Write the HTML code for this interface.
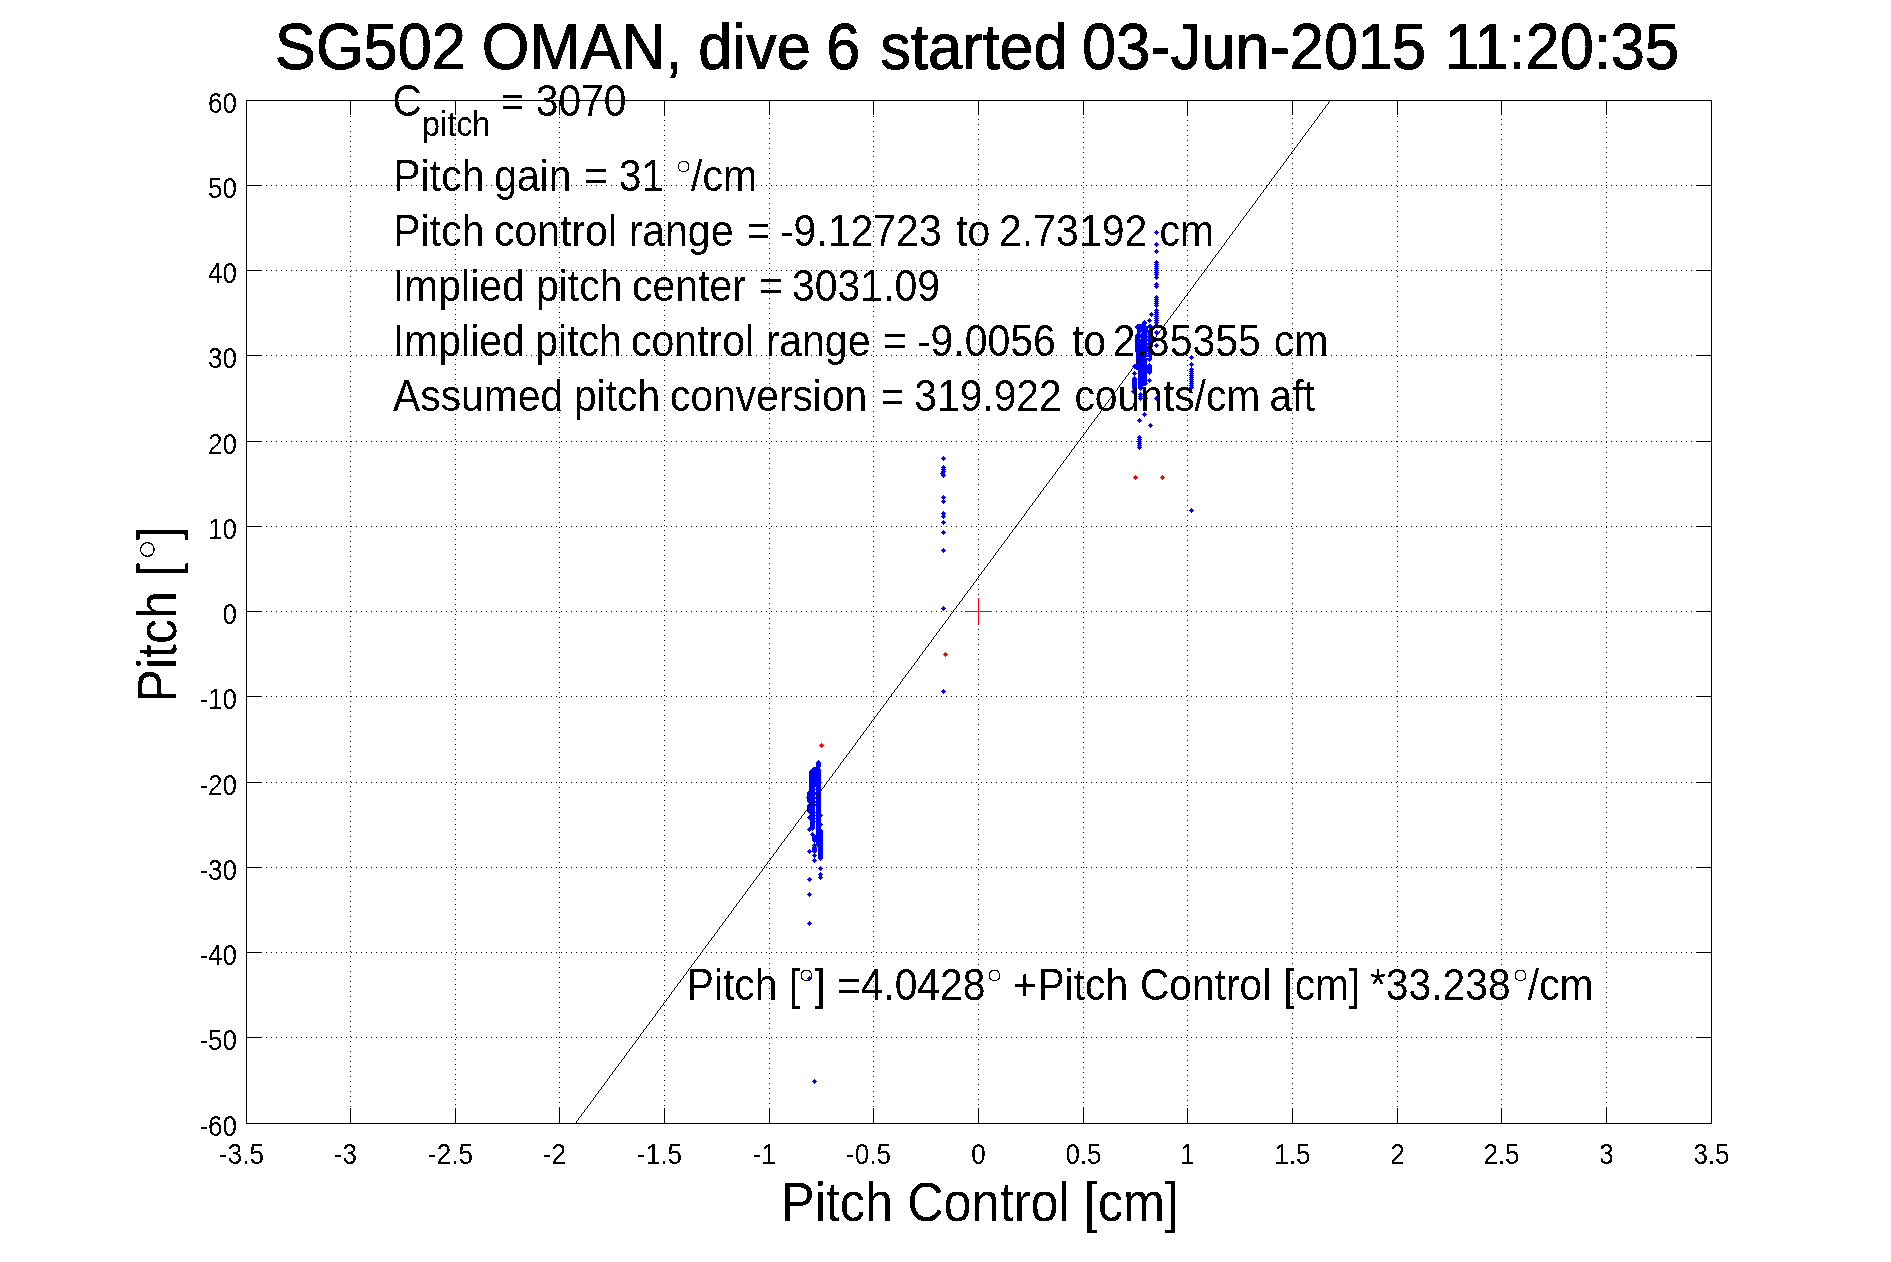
<!DOCTYPE html>
<html><head><meta charset="utf-8"><title>SG502 OMAN dive 6</title>
<style>
html,body{margin:0;padding:0;background:#fff;}
body{width:1891px;height:1262px;overflow:hidden;}
svg{display:block;font-family:"Liberation Sans",sans-serif;}
</style></head><body>
<svg width="1891" height="1262" viewBox="0 0 1891 1262">
<defs><filter id="th" x="0" y="0" width="1891" height="1262" filterUnits="userSpaceOnUse" color-interpolation-filters="sRGB"><feComponentTransfer><feFuncA type="discrete" tableValues="0 1"/></feComponentTransfer></filter></defs>
<rect x="0" y="0" width="1891" height="1262" fill="#fff"/>
<g shape-rendering="crispEdges" stroke="#000" stroke-width="1" fill="none">
<g stroke-dasharray="1 4">
<line x1="350.5" y1="101" x2="350.5" y2="1123"/>
<line x1="455.5" y1="104" x2="455.5" y2="1123"/>
<line x1="559.5" y1="102" x2="559.5" y2="1123"/>
<line x1="664.5" y1="105" x2="664.5" y2="1123"/>
<line x1="769.5" y1="103" x2="769.5" y2="1123"/>
<line x1="873.5" y1="101" x2="873.5" y2="1123"/>
<line x1="978.5" y1="104" x2="978.5" y2="1123"/>
<line x1="1083.5" y1="102" x2="1083.5" y2="1123"/>
<line x1="1187.5" y1="105" x2="1187.5" y2="1123"/>
<line x1="1292.5" y1="103" x2="1292.5" y2="1123"/>
<line x1="1397.5" y1="101" x2="1397.5" y2="1123"/>
<line x1="1501.5" y1="104" x2="1501.5" y2="1123"/>
<line x1="1606.5" y1="102" x2="1606.5" y2="1123"/>
<line x1="246" y1="185.5" x2="1711" y2="185.5"/>
<line x1="246" y1="270.5" x2="1711" y2="270.5"/>
<line x1="246" y1="355.5" x2="1711" y2="355.5"/>
<line x1="246" y1="441.5" x2="1711" y2="441.5"/>
<line x1="246" y1="526.5" x2="1711" y2="526.5"/>
<line x1="246" y1="611.5" x2="1711" y2="611.5"/>
<line x1="246" y1="696.5" x2="1711" y2="696.5"/>
<line x1="246" y1="782.5" x2="1711" y2="782.5"/>
<line x1="246" y1="867.5" x2="1711" y2="867.5"/>
<line x1="246" y1="952.5" x2="1711" y2="952.5"/>
<line x1="246" y1="1037.5" x2="1711" y2="1037.5"/>
</g>
<rect x="246.5" y="100.5" width="1465" height="1023"/>
<line x1="350.5" y1="100" x2="350.5" y2="115"/>
<line x1="350.5" y1="1124" x2="350.5" y2="1108"/>
<line x1="455.5" y1="100" x2="455.5" y2="115"/>
<line x1="455.5" y1="1124" x2="455.5" y2="1108"/>
<line x1="559.5" y1="100" x2="559.5" y2="115"/>
<line x1="559.5" y1="1124" x2="559.5" y2="1108"/>
<line x1="664.5" y1="100" x2="664.5" y2="115"/>
<line x1="664.5" y1="1124" x2="664.5" y2="1108"/>
<line x1="769.5" y1="100" x2="769.5" y2="115"/>
<line x1="769.5" y1="1124" x2="769.5" y2="1108"/>
<line x1="873.5" y1="100" x2="873.5" y2="115"/>
<line x1="873.5" y1="1124" x2="873.5" y2="1108"/>
<line x1="978.5" y1="100" x2="978.5" y2="115"/>
<line x1="978.5" y1="1124" x2="978.5" y2="1108"/>
<line x1="1083.5" y1="100" x2="1083.5" y2="115"/>
<line x1="1083.5" y1="1124" x2="1083.5" y2="1108"/>
<line x1="1187.5" y1="100" x2="1187.5" y2="115"/>
<line x1="1187.5" y1="1124" x2="1187.5" y2="1108"/>
<line x1="1292.5" y1="100" x2="1292.5" y2="115"/>
<line x1="1292.5" y1="1124" x2="1292.5" y2="1108"/>
<line x1="1397.5" y1="100" x2="1397.5" y2="115"/>
<line x1="1397.5" y1="1124" x2="1397.5" y2="1108"/>
<line x1="1501.5" y1="100" x2="1501.5" y2="115"/>
<line x1="1501.5" y1="1124" x2="1501.5" y2="1108"/>
<line x1="1606.5" y1="100" x2="1606.5" y2="115"/>
<line x1="1606.5" y1="1124" x2="1606.5" y2="1108"/>
<line x1="246" y1="185.5" x2="262" y2="185.5"/>
<line x1="1712" y1="185.5" x2="1696" y2="185.5"/>
<line x1="246" y1="270.5" x2="262" y2="270.5"/>
<line x1="1712" y1="270.5" x2="1696" y2="270.5"/>
<line x1="246" y1="355.5" x2="262" y2="355.5"/>
<line x1="1712" y1="355.5" x2="1696" y2="355.5"/>
<line x1="246" y1="441.5" x2="262" y2="441.5"/>
<line x1="1712" y1="441.5" x2="1696" y2="441.5"/>
<line x1="246" y1="526.5" x2="262" y2="526.5"/>
<line x1="1712" y1="526.5" x2="1696" y2="526.5"/>
<line x1="246" y1="611.5" x2="262" y2="611.5"/>
<line x1="1712" y1="611.5" x2="1696" y2="611.5"/>
<line x1="246" y1="696.5" x2="262" y2="696.5"/>
<line x1="1712" y1="696.5" x2="1696" y2="696.5"/>
<line x1="246" y1="782.5" x2="262" y2="782.5"/>
<line x1="1712" y1="782.5" x2="1696" y2="782.5"/>
<line x1="246" y1="867.5" x2="262" y2="867.5"/>
<line x1="1712" y1="867.5" x2="1696" y2="867.5"/>
<line x1="246" y1="952.5" x2="262" y2="952.5"/>
<line x1="1712" y1="952.5" x2="1696" y2="952.5"/>
<line x1="246" y1="1037.5" x2="262" y2="1037.5"/>
<line x1="1712" y1="1037.5" x2="1696" y2="1037.5"/>
</g>
<g shape-rendering="crispEdges">
<path fill="#0000ff" d="M808 795h1v1h1v1h1v1h-1v1h-1v1h-1v-1h-1v-1h-1v-1h1v-1h1zM809 790h1v1h1v1h1v1h-1v1h-1v1h-1v-1h-1v-1h-1v-1h1v-1h1zM809 791h1v1h1v1h1v1h-1v1h-1v1h-1v-1h-1v-1h-1v-1h1v-1h1zM809 792h1v1h1v1h1v1h-1v1h-1v1h-1v-1h-1v-1h-1v-1h1v-1h1zM809 793h1v1h1v1h1v1h-1v1h-1v1h-1v-1h-1v-1h-1v-1h1v-1h1zM809 794h1v1h1v1h1v1h-1v1h-1v1h-1v-1h-1v-1h-1v-1h1v-1h1zM809 795h1v1h1v1h1v1h-1v1h-1v1h-1v-1h-1v-1h-1v-1h1v-1h1zM809 796h1v1h1v1h1v1h-1v1h-1v1h-1v-1h-1v-1h-1v-1h1v-1h1zM809 797h1v1h1v1h1v1h-1v1h-1v1h-1v-1h-1v-1h-1v-1h1v-1h1zM809 798h1v1h1v1h1v1h-1v1h-1v1h-1v-1h-1v-1h-1v-1h1v-1h1zM809 799h1v1h1v1h1v1h-1v1h-1v1h-1v-1h-1v-1h-1v-1h1v-1h1zM809 803h1v1h1v1h1v1h-1v1h-1v1h-1v-1h-1v-1h-1v-1h1v-1h1zM809 804h1v1h1v1h1v1h-1v1h-1v1h-1v-1h-1v-1h-1v-1h1v-1h1zM809 805h1v1h1v1h1v1h-1v1h-1v1h-1v-1h-1v-1h-1v-1h1v-1h1zM809 806h1v1h1v1h1v1h-1v1h-1v1h-1v-1h-1v-1h-1v-1h1v-1h1zM809 807h1v1h1v1h1v1h-1v1h-1v1h-1v-1h-1v-1h-1v-1h1v-1h1zM809 808h1v1h1v1h1v1h-1v1h-1v1h-1v-1h-1v-1h-1v-1h1v-1h1zM809 809h1v1h1v1h1v1h-1v1h-1v1h-1v-1h-1v-1h-1v-1h1v-1h1zM809 815h1v1h1v1h1v1h-1v1h-1v1h-1v-1h-1v-1h-1v-1h1v-1h1zM809 827h1v1h1v1h1v1h-1v1h-1v1h-1v-1h-1v-1h-1v-1h1v-1h1zM809 849h1v1h1v1h1v1h-1v1h-1v1h-1v-1h-1v-1h-1v-1h1v-1h1zM809 877h1v1h1v1h1v1h-1v1h-1v1h-1v-1h-1v-1h-1v-1h1v-1h1zM809 892h1v1h1v1h1v1h-1v1h-1v1h-1v-1h-1v-1h-1v-1h1v-1h1zM809 921h1v1h1v1h1v1h-1v1h-1v1h-1v-1h-1v-1h-1v-1h1v-1h1zM809 976h1v1h1v1h1v1h-1v1h-1v1h-1v-1h-1v-1h-1v-1h1v-1h1zM810 790h1v1h1v1h1v1h-1v1h-1v1h-1v-1h-1v-1h-1v-1h1v-1h1zM810 791h1v1h1v1h1v1h-1v1h-1v1h-1v-1h-1v-1h-1v-1h1v-1h1zM810 792h1v1h1v1h1v1h-1v1h-1v1h-1v-1h-1v-1h-1v-1h1v-1h1zM810 793h1v1h1v1h1v1h-1v1h-1v1h-1v-1h-1v-1h-1v-1h1v-1h1zM810 794h1v1h1v1h1v1h-1v1h-1v1h-1v-1h-1v-1h-1v-1h1v-1h1zM810 795h1v1h1v1h1v1h-1v1h-1v1h-1v-1h-1v-1h-1v-1h1v-1h1zM810 796h1v1h1v1h1v1h-1v1h-1v1h-1v-1h-1v-1h-1v-1h1v-1h1zM810 797h1v1h1v1h1v1h-1v1h-1v1h-1v-1h-1v-1h-1v-1h1v-1h1zM810 798h1v1h1v1h1v1h-1v1h-1v1h-1v-1h-1v-1h-1v-1h1v-1h1zM810 799h1v1h1v1h1v1h-1v1h-1v1h-1v-1h-1v-1h-1v-1h1v-1h1zM810 803h1v1h1v1h1v1h-1v1h-1v1h-1v-1h-1v-1h-1v-1h1v-1h1zM810 804h1v1h1v1h1v1h-1v1h-1v1h-1v-1h-1v-1h-1v-1h1v-1h1zM810 805h1v1h1v1h1v1h-1v1h-1v1h-1v-1h-1v-1h-1v-1h1v-1h1zM810 806h1v1h1v1h1v1h-1v1h-1v1h-1v-1h-1v-1h-1v-1h1v-1h1zM810 807h1v1h1v1h1v1h-1v1h-1v1h-1v-1h-1v-1h-1v-1h1v-1h1zM810 808h1v1h1v1h1v1h-1v1h-1v1h-1v-1h-1v-1h-1v-1h1v-1h1zM810 809h1v1h1v1h1v1h-1v1h-1v1h-1v-1h-1v-1h-1v-1h1v-1h1zM811 769h1v1h1v1h1v1h-1v1h-1v1h-1v-1h-1v-1h-1v-1h1v-1h1zM811 770h1v1h1v1h1v1h-1v1h-1v1h-1v-1h-1v-1h-1v-1h1v-1h1zM811 771h1v1h1v1h1v1h-1v1h-1v1h-1v-1h-1v-1h-1v-1h1v-1h1zM811 772h1v1h1v1h1v1h-1v1h-1v1h-1v-1h-1v-1h-1v-1h1v-1h1zM811 773h1v1h1v1h1v1h-1v1h-1v1h-1v-1h-1v-1h-1v-1h1v-1h1zM811 774h1v1h1v1h1v1h-1v1h-1v1h-1v-1h-1v-1h-1v-1h1v-1h1zM811 775h1v1h1v1h1v1h-1v1h-1v1h-1v-1h-1v-1h-1v-1h1v-1h1zM811 776h1v1h1v1h1v1h-1v1h-1v1h-1v-1h-1v-1h-1v-1h1v-1h1zM811 777h1v1h1v1h1v1h-1v1h-1v1h-1v-1h-1v-1h-1v-1h1v-1h1zM811 778h1v1h1v1h1v1h-1v1h-1v1h-1v-1h-1v-1h-1v-1h1v-1h1zM811 779h1v1h1v1h1v1h-1v1h-1v1h-1v-1h-1v-1h-1v-1h1v-1h1zM811 780h1v1h1v1h1v1h-1v1h-1v1h-1v-1h-1v-1h-1v-1h1v-1h1zM811 781h1v1h1v1h1v1h-1v1h-1v1h-1v-1h-1v-1h-1v-1h1v-1h1zM811 782h1v1h1v1h1v1h-1v1h-1v1h-1v-1h-1v-1h-1v-1h1v-1h1zM811 783h1v1h1v1h1v1h-1v1h-1v1h-1v-1h-1v-1h-1v-1h1v-1h1zM811 784h1v1h1v1h1v1h-1v1h-1v1h-1v-1h-1v-1h-1v-1h1v-1h1zM811 785h1v1h1v1h1v1h-1v1h-1v1h-1v-1h-1v-1h-1v-1h1v-1h1zM811 786h1v1h1v1h1v1h-1v1h-1v1h-1v-1h-1v-1h-1v-1h1v-1h1zM811 787h1v1h1v1h1v1h-1v1h-1v1h-1v-1h-1v-1h-1v-1h1v-1h1zM811 788h1v1h1v1h1v1h-1v1h-1v1h-1v-1h-1v-1h-1v-1h1v-1h1zM811 789h1v1h1v1h1v1h-1v1h-1v1h-1v-1h-1v-1h-1v-1h1v-1h1zM811 790h1v1h1v1h1v1h-1v1h-1v1h-1v-1h-1v-1h-1v-1h1v-1h1zM811 791h1v1h1v1h1v1h-1v1h-1v1h-1v-1h-1v-1h-1v-1h1v-1h1zM811 792h1v1h1v1h1v1h-1v1h-1v1h-1v-1h-1v-1h-1v-1h1v-1h1zM811 793h1v1h1v1h1v1h-1v1h-1v1h-1v-1h-1v-1h-1v-1h1v-1h1zM811 794h1v1h1v1h1v1h-1v1h-1v1h-1v-1h-1v-1h-1v-1h1v-1h1zM811 795h1v1h1v1h1v1h-1v1h-1v1h-1v-1h-1v-1h-1v-1h1v-1h1zM811 796h1v1h1v1h1v1h-1v1h-1v1h-1v-1h-1v-1h-1v-1h1v-1h1zM811 797h1v1h1v1h1v1h-1v1h-1v1h-1v-1h-1v-1h-1v-1h1v-1h1zM811 798h1v1h1v1h1v1h-1v1h-1v1h-1v-1h-1v-1h-1v-1h1v-1h1zM811 799h1v1h1v1h1v1h-1v1h-1v1h-1v-1h-1v-1h-1v-1h1v-1h1zM811 800h1v1h1v1h1v1h-1v1h-1v1h-1v-1h-1v-1h-1v-1h1v-1h1zM811 801h1v1h1v1h1v1h-1v1h-1v1h-1v-1h-1v-1h-1v-1h1v-1h1zM811 802h1v1h1v1h1v1h-1v1h-1v1h-1v-1h-1v-1h-1v-1h1v-1h1zM811 803h1v1h1v1h1v1h-1v1h-1v1h-1v-1h-1v-1h-1v-1h1v-1h1zM811 804h1v1h1v1h1v1h-1v1h-1v1h-1v-1h-1v-1h-1v-1h1v-1h1zM811 805h1v1h1v1h1v1h-1v1h-1v1h-1v-1h-1v-1h-1v-1h1v-1h1zM811 806h1v1h1v1h1v1h-1v1h-1v1h-1v-1h-1v-1h-1v-1h1v-1h1zM811 807h1v1h1v1h1v1h-1v1h-1v1h-1v-1h-1v-1h-1v-1h1v-1h1zM811 808h1v1h1v1h1v1h-1v1h-1v1h-1v-1h-1v-1h-1v-1h1v-1h1zM811 809h1v1h1v1h1v1h-1v1h-1v1h-1v-1h-1v-1h-1v-1h1v-1h1zM812 769h1v1h1v1h1v1h-1v1h-1v1h-1v-1h-1v-1h-1v-1h1v-1h1zM812 770h1v1h1v1h1v1h-1v1h-1v1h-1v-1h-1v-1h-1v-1h1v-1h1zM812 771h1v1h1v1h1v1h-1v1h-1v1h-1v-1h-1v-1h-1v-1h1v-1h1zM812 772h1v1h1v1h1v1h-1v1h-1v1h-1v-1h-1v-1h-1v-1h1v-1h1zM812 773h1v1h1v1h1v1h-1v1h-1v1h-1v-1h-1v-1h-1v-1h1v-1h1zM812 774h1v1h1v1h1v1h-1v1h-1v1h-1v-1h-1v-1h-1v-1h1v-1h1zM812 775h1v1h1v1h1v1h-1v1h-1v1h-1v-1h-1v-1h-1v-1h1v-1h1zM812 776h1v1h1v1h1v1h-1v1h-1v1h-1v-1h-1v-1h-1v-1h1v-1h1zM812 777h1v1h1v1h1v1h-1v1h-1v1h-1v-1h-1v-1h-1v-1h1v-1h1zM812 778h1v1h1v1h1v1h-1v1h-1v1h-1v-1h-1v-1h-1v-1h1v-1h1zM812 779h1v1h1v1h1v1h-1v1h-1v1h-1v-1h-1v-1h-1v-1h1v-1h1zM812 780h1v1h1v1h1v1h-1v1h-1v1h-1v-1h-1v-1h-1v-1h1v-1h1zM812 781h1v1h1v1h1v1h-1v1h-1v1h-1v-1h-1v-1h-1v-1h1v-1h1zM812 782h1v1h1v1h1v1h-1v1h-1v1h-1v-1h-1v-1h-1v-1h1v-1h1zM812 783h1v1h1v1h1v1h-1v1h-1v1h-1v-1h-1v-1h-1v-1h1v-1h1zM812 784h1v1h1v1h1v1h-1v1h-1v1h-1v-1h-1v-1h-1v-1h1v-1h1zM812 785h1v1h1v1h1v1h-1v1h-1v1h-1v-1h-1v-1h-1v-1h1v-1h1zM812 786h1v1h1v1h1v1h-1v1h-1v1h-1v-1h-1v-1h-1v-1h1v-1h1zM812 787h1v1h1v1h1v1h-1v1h-1v1h-1v-1h-1v-1h-1v-1h1v-1h1zM812 788h1v1h1v1h1v1h-1v1h-1v1h-1v-1h-1v-1h-1v-1h1v-1h1zM812 789h1v1h1v1h1v1h-1v1h-1v1h-1v-1h-1v-1h-1v-1h1v-1h1zM812 790h1v1h1v1h1v1h-1v1h-1v1h-1v-1h-1v-1h-1v-1h1v-1h1zM812 791h1v1h1v1h1v1h-1v1h-1v1h-1v-1h-1v-1h-1v-1h1v-1h1zM812 792h1v1h1v1h1v1h-1v1h-1v1h-1v-1h-1v-1h-1v-1h1v-1h1zM812 793h1v1h1v1h1v1h-1v1h-1v1h-1v-1h-1v-1h-1v-1h1v-1h1zM812 794h1v1h1v1h1v1h-1v1h-1v1h-1v-1h-1v-1h-1v-1h1v-1h1zM812 795h1v1h1v1h1v1h-1v1h-1v1h-1v-1h-1v-1h-1v-1h1v-1h1zM812 796h1v1h1v1h1v1h-1v1h-1v1h-1v-1h-1v-1h-1v-1h1v-1h1zM812 797h1v1h1v1h1v1h-1v1h-1v1h-1v-1h-1v-1h-1v-1h1v-1h1zM812 798h1v1h1v1h1v1h-1v1h-1v1h-1v-1h-1v-1h-1v-1h1v-1h1zM812 799h1v1h1v1h1v1h-1v1h-1v1h-1v-1h-1v-1h-1v-1h1v-1h1zM812 800h1v1h1v1h1v1h-1v1h-1v1h-1v-1h-1v-1h-1v-1h1v-1h1zM812 801h1v1h1v1h1v1h-1v1h-1v1h-1v-1h-1v-1h-1v-1h1v-1h1zM812 802h1v1h1v1h1v1h-1v1h-1v1h-1v-1h-1v-1h-1v-1h1v-1h1zM812 803h1v1h1v1h1v1h-1v1h-1v1h-1v-1h-1v-1h-1v-1h1v-1h1zM812 804h1v1h1v1h1v1h-1v1h-1v1h-1v-1h-1v-1h-1v-1h1v-1h1zM812 805h1v1h1v1h1v1h-1v1h-1v1h-1v-1h-1v-1h-1v-1h1v-1h1zM812 806h1v1h1v1h1v1h-1v1h-1v1h-1v-1h-1v-1h-1v-1h1v-1h1zM812 807h1v1h1v1h1v1h-1v1h-1v1h-1v-1h-1v-1h-1v-1h1v-1h1zM812 808h1v1h1v1h1v1h-1v1h-1v1h-1v-1h-1v-1h-1v-1h1v-1h1zM812 809h1v1h1v1h1v1h-1v1h-1v1h-1v-1h-1v-1h-1v-1h1v-1h1zM812 810h1v1h1v1h1v1h-1v1h-1v1h-1v-1h-1v-1h-1v-1h1v-1h1zM812 811h1v1h1v1h1v1h-1v1h-1v1h-1v-1h-1v-1h-1v-1h1v-1h1zM812 812h1v1h1v1h1v1h-1v1h-1v1h-1v-1h-1v-1h-1v-1h1v-1h1zM812 813h1v1h1v1h1v1h-1v1h-1v1h-1v-1h-1v-1h-1v-1h1v-1h1zM812 814h1v1h1v1h1v1h-1v1h-1v1h-1v-1h-1v-1h-1v-1h1v-1h1zM812 815h1v1h1v1h1v1h-1v1h-1v1h-1v-1h-1v-1h-1v-1h1v-1h1zM812 816h1v1h1v1h1v1h-1v1h-1v1h-1v-1h-1v-1h-1v-1h1v-1h1zM812 817h1v1h1v1h1v1h-1v1h-1v1h-1v-1h-1v-1h-1v-1h1v-1h1zM812 818h1v1h1v1h1v1h-1v1h-1v1h-1v-1h-1v-1h-1v-1h1v-1h1zM812 819h1v1h1v1h1v1h-1v1h-1v1h-1v-1h-1v-1h-1v-1h1v-1h1zM812 820h1v1h1v1h1v1h-1v1h-1v1h-1v-1h-1v-1h-1v-1h1v-1h1zM812 821h1v1h1v1h1v1h-1v1h-1v1h-1v-1h-1v-1h-1v-1h1v-1h1zM812 822h1v1h1v1h1v1h-1v1h-1v1h-1v-1h-1v-1h-1v-1h1v-1h1zM812 823h1v1h1v1h1v1h-1v1h-1v1h-1v-1h-1v-1h-1v-1h1v-1h1zM812 824h1v1h1v1h1v1h-1v1h-1v1h-1v-1h-1v-1h-1v-1h1v-1h1zM812 825h1v1h1v1h1v1h-1v1h-1v1h-1v-1h-1v-1h-1v-1h1v-1h1zM812 826h1v1h1v1h1v1h-1v1h-1v1h-1v-1h-1v-1h-1v-1h1v-1h1zM812 832h1v1h1v1h1v1h-1v1h-1v1h-1v-1h-1v-1h-1v-1h1v-1h1zM813 767h1v1h1v1h1v1h-1v1h-1v1h-1v-1h-1v-1h-1v-1h1v-1h1zM813 768h1v1h1v1h1v1h-1v1h-1v1h-1v-1h-1v-1h-1v-1h1v-1h1zM813 769h1v1h1v1h1v1h-1v1h-1v1h-1v-1h-1v-1h-1v-1h1v-1h1zM813 770h1v1h1v1h1v1h-1v1h-1v1h-1v-1h-1v-1h-1v-1h1v-1h1zM813 771h1v1h1v1h1v1h-1v1h-1v1h-1v-1h-1v-1h-1v-1h1v-1h1zM813 772h1v1h1v1h1v1h-1v1h-1v1h-1v-1h-1v-1h-1v-1h1v-1h1zM813 773h1v1h1v1h1v1h-1v1h-1v1h-1v-1h-1v-1h-1v-1h1v-1h1zM813 774h1v1h1v1h1v1h-1v1h-1v1h-1v-1h-1v-1h-1v-1h1v-1h1zM813 775h1v1h1v1h1v1h-1v1h-1v1h-1v-1h-1v-1h-1v-1h1v-1h1zM813 776h1v1h1v1h1v1h-1v1h-1v1h-1v-1h-1v-1h-1v-1h1v-1h1zM813 777h1v1h1v1h1v1h-1v1h-1v1h-1v-1h-1v-1h-1v-1h1v-1h1zM813 778h1v1h1v1h1v1h-1v1h-1v1h-1v-1h-1v-1h-1v-1h1v-1h1zM813 779h1v1h1v1h1v1h-1v1h-1v1h-1v-1h-1v-1h-1v-1h1v-1h1zM813 780h1v1h1v1h1v1h-1v1h-1v1h-1v-1h-1v-1h-1v-1h1v-1h1zM813 781h1v1h1v1h1v1h-1v1h-1v1h-1v-1h-1v-1h-1v-1h1v-1h1zM813 782h1v1h1v1h1v1h-1v1h-1v1h-1v-1h-1v-1h-1v-1h1v-1h1zM814 767h1v1h1v1h1v1h-1v1h-1v1h-1v-1h-1v-1h-1v-1h1v-1h1zM814 768h1v1h1v1h1v1h-1v1h-1v1h-1v-1h-1v-1h-1v-1h1v-1h1zM814 769h1v1h1v1h1v1h-1v1h-1v1h-1v-1h-1v-1h-1v-1h1v-1h1zM814 770h1v1h1v1h1v1h-1v1h-1v1h-1v-1h-1v-1h-1v-1h1v-1h1zM814 771h1v1h1v1h1v1h-1v1h-1v1h-1v-1h-1v-1h-1v-1h1v-1h1zM814 772h1v1h1v1h1v1h-1v1h-1v1h-1v-1h-1v-1h-1v-1h1v-1h1zM814 773h1v1h1v1h1v1h-1v1h-1v1h-1v-1h-1v-1h-1v-1h1v-1h1zM814 774h1v1h1v1h1v1h-1v1h-1v1h-1v-1h-1v-1h-1v-1h1v-1h1zM814 775h1v1h1v1h1v1h-1v1h-1v1h-1v-1h-1v-1h-1v-1h1v-1h1zM814 776h1v1h1v1h1v1h-1v1h-1v1h-1v-1h-1v-1h-1v-1h1v-1h1zM814 777h1v1h1v1h1v1h-1v1h-1v1h-1v-1h-1v-1h-1v-1h1v-1h1zM814 778h1v1h1v1h1v1h-1v1h-1v1h-1v-1h-1v-1h-1v-1h1v-1h1zM814 779h1v1h1v1h1v1h-1v1h-1v1h-1v-1h-1v-1h-1v-1h1v-1h1zM814 780h1v1h1v1h1v1h-1v1h-1v1h-1v-1h-1v-1h-1v-1h1v-1h1zM814 781h1v1h1v1h1v1h-1v1h-1v1h-1v-1h-1v-1h-1v-1h1v-1h1zM814 782h1v1h1v1h1v1h-1v1h-1v1h-1v-1h-1v-1h-1v-1h1v-1h1zM814 834h1v1h1v1h1v1h-1v1h-1v1h-1v-1h-1v-1h-1v-1h1v-1h1zM814 835h1v1h1v1h1v1h-1v1h-1v1h-1v-1h-1v-1h-1v-1h1v-1h1zM814 836h1v1h1v1h1v1h-1v1h-1v1h-1v-1h-1v-1h-1v-1h1v-1h1zM814 837h1v1h1v1h1v1h-1v1h-1v1h-1v-1h-1v-1h-1v-1h1v-1h1zM814 838h1v1h1v1h1v1h-1v1h-1v1h-1v-1h-1v-1h-1v-1h1v-1h1zM814 843h1v1h1v1h1v1h-1v1h-1v1h-1v-1h-1v-1h-1v-1h1v-1h1zM814 845h1v1h1v1h1v1h-1v1h-1v1h-1v-1h-1v-1h-1v-1h1v-1h1zM814 846h1v1h1v1h1v1h-1v1h-1v1h-1v-1h-1v-1h-1v-1h1v-1h1zM814 847h1v1h1v1h1v1h-1v1h-1v1h-1v-1h-1v-1h-1v-1h1v-1h1zM814 848h1v1h1v1h1v1h-1v1h-1v1h-1v-1h-1v-1h-1v-1h1v-1h1zM814 849h1v1h1v1h1v1h-1v1h-1v1h-1v-1h-1v-1h-1v-1h1v-1h1zM814 853h1v1h1v1h1v1h-1v1h-1v1h-1v-1h-1v-1h-1v-1h1v-1h1zM814 858h1v1h1v1h1v1h-1v1h-1v1h-1v-1h-1v-1h-1v-1h1v-1h1zM814 1079h1v1h1v1h1v1h-1v1h-1v1h-1v-1h-1v-1h-1v-1h1v-1h1zM815 767h1v1h1v1h1v1h-1v1h-1v1h-1v-1h-1v-1h-1v-1h1v-1h1zM815 768h1v1h1v1h1v1h-1v1h-1v1h-1v-1h-1v-1h-1v-1h1v-1h1zM815 769h1v1h1v1h1v1h-1v1h-1v1h-1v-1h-1v-1h-1v-1h1v-1h1zM815 770h1v1h1v1h1v1h-1v1h-1v1h-1v-1h-1v-1h-1v-1h1v-1h1zM815 771h1v1h1v1h1v1h-1v1h-1v1h-1v-1h-1v-1h-1v-1h1v-1h1zM815 772h1v1h1v1h1v1h-1v1h-1v1h-1v-1h-1v-1h-1v-1h1v-1h1zM815 773h1v1h1v1h1v1h-1v1h-1v1h-1v-1h-1v-1h-1v-1h1v-1h1zM815 774h1v1h1v1h1v1h-1v1h-1v1h-1v-1h-1v-1h-1v-1h1v-1h1zM815 775h1v1h1v1h1v1h-1v1h-1v1h-1v-1h-1v-1h-1v-1h1v-1h1zM815 776h1v1h1v1h1v1h-1v1h-1v1h-1v-1h-1v-1h-1v-1h1v-1h1zM815 777h1v1h1v1h1v1h-1v1h-1v1h-1v-1h-1v-1h-1v-1h1v-1h1zM815 778h1v1h1v1h1v1h-1v1h-1v1h-1v-1h-1v-1h-1v-1h1v-1h1zM815 779h1v1h1v1h1v1h-1v1h-1v1h-1v-1h-1v-1h-1v-1h1v-1h1zM815 780h1v1h1v1h1v1h-1v1h-1v1h-1v-1h-1v-1h-1v-1h1v-1h1zM815 781h1v1h1v1h1v1h-1v1h-1v1h-1v-1h-1v-1h-1v-1h1v-1h1zM815 782h1v1h1v1h1v1h-1v1h-1v1h-1v-1h-1v-1h-1v-1h1v-1h1zM816 767h1v1h1v1h1v1h-1v1h-1v1h-1v-1h-1v-1h-1v-1h1v-1h1zM816 768h1v1h1v1h1v1h-1v1h-1v1h-1v-1h-1v-1h-1v-1h1v-1h1zM816 769h1v1h1v1h1v1h-1v1h-1v1h-1v-1h-1v-1h-1v-1h1v-1h1zM816 770h1v1h1v1h1v1h-1v1h-1v1h-1v-1h-1v-1h-1v-1h1v-1h1zM816 771h1v1h1v1h1v1h-1v1h-1v1h-1v-1h-1v-1h-1v-1h1v-1h1zM816 772h1v1h1v1h1v1h-1v1h-1v1h-1v-1h-1v-1h-1v-1h1v-1h1zM816 773h1v1h1v1h1v1h-1v1h-1v1h-1v-1h-1v-1h-1v-1h1v-1h1zM816 774h1v1h1v1h1v1h-1v1h-1v1h-1v-1h-1v-1h-1v-1h1v-1h1zM816 775h1v1h1v1h1v1h-1v1h-1v1h-1v-1h-1v-1h-1v-1h1v-1h1zM816 776h1v1h1v1h1v1h-1v1h-1v1h-1v-1h-1v-1h-1v-1h1v-1h1zM816 777h1v1h1v1h1v1h-1v1h-1v1h-1v-1h-1v-1h-1v-1h1v-1h1zM816 778h1v1h1v1h1v1h-1v1h-1v1h-1v-1h-1v-1h-1v-1h1v-1h1zM816 779h1v1h1v1h1v1h-1v1h-1v1h-1v-1h-1v-1h-1v-1h1v-1h1zM816 780h1v1h1v1h1v1h-1v1h-1v1h-1v-1h-1v-1h-1v-1h1v-1h1zM816 781h1v1h1v1h1v1h-1v1h-1v1h-1v-1h-1v-1h-1v-1h1v-1h1zM816 782h1v1h1v1h1v1h-1v1h-1v1h-1v-1h-1v-1h-1v-1h1v-1h1zM817 767h1v1h1v1h1v1h-1v1h-1v1h-1v-1h-1v-1h-1v-1h1v-1h1zM817 768h1v1h1v1h1v1h-1v1h-1v1h-1v-1h-1v-1h-1v-1h1v-1h1zM817 769h1v1h1v1h1v1h-1v1h-1v1h-1v-1h-1v-1h-1v-1h1v-1h1zM817 770h1v1h1v1h1v1h-1v1h-1v1h-1v-1h-1v-1h-1v-1h1v-1h1zM817 771h1v1h1v1h1v1h-1v1h-1v1h-1v-1h-1v-1h-1v-1h1v-1h1zM817 772h1v1h1v1h1v1h-1v1h-1v1h-1v-1h-1v-1h-1v-1h1v-1h1zM817 773h1v1h1v1h1v1h-1v1h-1v1h-1v-1h-1v-1h-1v-1h1v-1h1zM817 774h1v1h1v1h1v1h-1v1h-1v1h-1v-1h-1v-1h-1v-1h1v-1h1zM817 775h1v1h1v1h1v1h-1v1h-1v1h-1v-1h-1v-1h-1v-1h1v-1h1zM817 776h1v1h1v1h1v1h-1v1h-1v1h-1v-1h-1v-1h-1v-1h1v-1h1zM817 777h1v1h1v1h1v1h-1v1h-1v1h-1v-1h-1v-1h-1v-1h1v-1h1zM817 778h1v1h1v1h1v1h-1v1h-1v1h-1v-1h-1v-1h-1v-1h1v-1h1zM817 779h1v1h1v1h1v1h-1v1h-1v1h-1v-1h-1v-1h-1v-1h1v-1h1zM817 780h1v1h1v1h1v1h-1v1h-1v1h-1v-1h-1v-1h-1v-1h1v-1h1zM817 781h1v1h1v1h1v1h-1v1h-1v1h-1v-1h-1v-1h-1v-1h1v-1h1zM817 782h1v1h1v1h1v1h-1v1h-1v1h-1v-1h-1v-1h-1v-1h1v-1h1zM818 760h1v1h1v1h1v1h-1v1h-1v1h-1v-1h-1v-1h-1v-1h1v-1h1zM818 761h1v1h1v1h1v1h-1v1h-1v1h-1v-1h-1v-1h-1v-1h1v-1h1zM818 762h1v1h1v1h1v1h-1v1h-1v1h-1v-1h-1v-1h-1v-1h1v-1h1zM818 763h1v1h1v1h1v1h-1v1h-1v1h-1v-1h-1v-1h-1v-1h1v-1h1zM818 764h1v1h1v1h1v1h-1v1h-1v1h-1v-1h-1v-1h-1v-1h1v-1h1zM818 767h1v1h1v1h1v1h-1v1h-1v1h-1v-1h-1v-1h-1v-1h1v-1h1zM818 768h1v1h1v1h1v1h-1v1h-1v1h-1v-1h-1v-1h-1v-1h1v-1h1zM818 769h1v1h1v1h1v1h-1v1h-1v1h-1v-1h-1v-1h-1v-1h1v-1h1zM818 770h1v1h1v1h1v1h-1v1h-1v1h-1v-1h-1v-1h-1v-1h1v-1h1zM818 771h1v1h1v1h1v1h-1v1h-1v1h-1v-1h-1v-1h-1v-1h1v-1h1zM818 772h1v1h1v1h1v1h-1v1h-1v1h-1v-1h-1v-1h-1v-1h1v-1h1zM818 773h1v1h1v1h1v1h-1v1h-1v1h-1v-1h-1v-1h-1v-1h1v-1h1zM818 774h1v1h1v1h1v1h-1v1h-1v1h-1v-1h-1v-1h-1v-1h1v-1h1zM818 775h1v1h1v1h1v1h-1v1h-1v1h-1v-1h-1v-1h-1v-1h1v-1h1zM818 776h1v1h1v1h1v1h-1v1h-1v1h-1v-1h-1v-1h-1v-1h1v-1h1zM818 777h1v1h1v1h1v1h-1v1h-1v1h-1v-1h-1v-1h-1v-1h1v-1h1zM818 778h1v1h1v1h1v1h-1v1h-1v1h-1v-1h-1v-1h-1v-1h1v-1h1zM818 779h1v1h1v1h1v1h-1v1h-1v1h-1v-1h-1v-1h-1v-1h1v-1h1zM818 780h1v1h1v1h1v1h-1v1h-1v1h-1v-1h-1v-1h-1v-1h1v-1h1zM818 781h1v1h1v1h1v1h-1v1h-1v1h-1v-1h-1v-1h-1v-1h1v-1h1zM818 782h1v1h1v1h1v1h-1v1h-1v1h-1v-1h-1v-1h-1v-1h1v-1h1zM818 783h1v1h1v1h1v1h-1v1h-1v1h-1v-1h-1v-1h-1v-1h1v-1h1zM818 784h1v1h1v1h1v1h-1v1h-1v1h-1v-1h-1v-1h-1v-1h1v-1h1zM818 785h1v1h1v1h1v1h-1v1h-1v1h-1v-1h-1v-1h-1v-1h1v-1h1zM818 786h1v1h1v1h1v1h-1v1h-1v1h-1v-1h-1v-1h-1v-1h1v-1h1zM818 787h1v1h1v1h1v1h-1v1h-1v1h-1v-1h-1v-1h-1v-1h1v-1h1zM818 788h1v1h1v1h1v1h-1v1h-1v1h-1v-1h-1v-1h-1v-1h1v-1h1zM818 789h1v1h1v1h1v1h-1v1h-1v1h-1v-1h-1v-1h-1v-1h1v-1h1zM818 790h1v1h1v1h1v1h-1v1h-1v1h-1v-1h-1v-1h-1v-1h1v-1h1zM818 791h1v1h1v1h1v1h-1v1h-1v1h-1v-1h-1v-1h-1v-1h1v-1h1zM818 792h1v1h1v1h1v1h-1v1h-1v1h-1v-1h-1v-1h-1v-1h1v-1h1zM818 793h1v1h1v1h1v1h-1v1h-1v1h-1v-1h-1v-1h-1v-1h1v-1h1zM818 794h1v1h1v1h1v1h-1v1h-1v1h-1v-1h-1v-1h-1v-1h1v-1h1zM818 795h1v1h1v1h1v1h-1v1h-1v1h-1v-1h-1v-1h-1v-1h1v-1h1zM818 796h1v1h1v1h1v1h-1v1h-1v1h-1v-1h-1v-1h-1v-1h1v-1h1zM818 797h1v1h1v1h1v1h-1v1h-1v1h-1v-1h-1v-1h-1v-1h1v-1h1zM818 798h1v1h1v1h1v1h-1v1h-1v1h-1v-1h-1v-1h-1v-1h1v-1h1zM818 799h1v1h1v1h1v1h-1v1h-1v1h-1v-1h-1v-1h-1v-1h1v-1h1zM818 800h1v1h1v1h1v1h-1v1h-1v1h-1v-1h-1v-1h-1v-1h1v-1h1zM818 801h1v1h1v1h1v1h-1v1h-1v1h-1v-1h-1v-1h-1v-1h1v-1h1zM818 802h1v1h1v1h1v1h-1v1h-1v1h-1v-1h-1v-1h-1v-1h1v-1h1zM818 803h1v1h1v1h1v1h-1v1h-1v1h-1v-1h-1v-1h-1v-1h1v-1h1zM818 804h1v1h1v1h1v1h-1v1h-1v1h-1v-1h-1v-1h-1v-1h1v-1h1zM818 805h1v1h1v1h1v1h-1v1h-1v1h-1v-1h-1v-1h-1v-1h1v-1h1zM818 806h1v1h1v1h1v1h-1v1h-1v1h-1v-1h-1v-1h-1v-1h1v-1h1zM818 807h1v1h1v1h1v1h-1v1h-1v1h-1v-1h-1v-1h-1v-1h1v-1h1zM818 808h1v1h1v1h1v1h-1v1h-1v1h-1v-1h-1v-1h-1v-1h1v-1h1zM818 809h1v1h1v1h1v1h-1v1h-1v1h-1v-1h-1v-1h-1v-1h1v-1h1zM818 810h1v1h1v1h1v1h-1v1h-1v1h-1v-1h-1v-1h-1v-1h1v-1h1zM818 811h1v1h1v1h1v1h-1v1h-1v1h-1v-1h-1v-1h-1v-1h1v-1h1zM818 812h1v1h1v1h1v1h-1v1h-1v1h-1v-1h-1v-1h-1v-1h1v-1h1zM818 813h1v1h1v1h1v1h-1v1h-1v1h-1v-1h-1v-1h-1v-1h1v-1h1zM818 814h1v1h1v1h1v1h-1v1h-1v1h-1v-1h-1v-1h-1v-1h1v-1h1zM818 815h1v1h1v1h1v1h-1v1h-1v1h-1v-1h-1v-1h-1v-1h1v-1h1zM818 816h1v1h1v1h1v1h-1v1h-1v1h-1v-1h-1v-1h-1v-1h1v-1h1zM818 817h1v1h1v1h1v1h-1v1h-1v1h-1v-1h-1v-1h-1v-1h1v-1h1zM818 818h1v1h1v1h1v1h-1v1h-1v1h-1v-1h-1v-1h-1v-1h1v-1h1zM818 819h1v1h1v1h1v1h-1v1h-1v1h-1v-1h-1v-1h-1v-1h1v-1h1zM818 820h1v1h1v1h1v1h-1v1h-1v1h-1v-1h-1v-1h-1v-1h1v-1h1zM818 821h1v1h1v1h1v1h-1v1h-1v1h-1v-1h-1v-1h-1v-1h1v-1h1zM818 822h1v1h1v1h1v1h-1v1h-1v1h-1v-1h-1v-1h-1v-1h1v-1h1zM818 823h1v1h1v1h1v1h-1v1h-1v1h-1v-1h-1v-1h-1v-1h1v-1h1zM818 824h1v1h1v1h1v1h-1v1h-1v1h-1v-1h-1v-1h-1v-1h1v-1h1zM818 825h1v1h1v1h1v1h-1v1h-1v1h-1v-1h-1v-1h-1v-1h1v-1h1zM818 826h1v1h1v1h1v1h-1v1h-1v1h-1v-1h-1v-1h-1v-1h1v-1h1zM818 827h1v1h1v1h1v1h-1v1h-1v1h-1v-1h-1v-1h-1v-1h1v-1h1zM818 828h1v1h1v1h1v1h-1v1h-1v1h-1v-1h-1v-1h-1v-1h1v-1h1zM818 829h1v1h1v1h1v1h-1v1h-1v1h-1v-1h-1v-1h-1v-1h1v-1h1zM818 830h1v1h1v1h1v1h-1v1h-1v1h-1v-1h-1v-1h-1v-1h1v-1h1zM818 831h1v1h1v1h1v1h-1v1h-1v1h-1v-1h-1v-1h-1v-1h1v-1h1zM818 832h1v1h1v1h1v1h-1v1h-1v1h-1v-1h-1v-1h-1v-1h1v-1h1zM818 833h1v1h1v1h1v1h-1v1h-1v1h-1v-1h-1v-1h-1v-1h1v-1h1zM818 834h1v1h1v1h1v1h-1v1h-1v1h-1v-1h-1v-1h-1v-1h1v-1h1zM818 835h1v1h1v1h1v1h-1v1h-1v1h-1v-1h-1v-1h-1v-1h1v-1h1zM818 836h1v1h1v1h1v1h-1v1h-1v1h-1v-1h-1v-1h-1v-1h1v-1h1zM818 837h1v1h1v1h1v1h-1v1h-1v1h-1v-1h-1v-1h-1v-1h1v-1h1zM818 838h1v1h1v1h1v1h-1v1h-1v1h-1v-1h-1v-1h-1v-1h1v-1h1zM818 839h1v1h1v1h1v1h-1v1h-1v1h-1v-1h-1v-1h-1v-1h1v-1h1zM818 840h1v1h1v1h1v1h-1v1h-1v1h-1v-1h-1v-1h-1v-1h1v-1h1zM818 841h1v1h1v1h1v1h-1v1h-1v1h-1v-1h-1v-1h-1v-1h1v-1h1zM818 842h1v1h1v1h1v1h-1v1h-1v1h-1v-1h-1v-1h-1v-1h1v-1h1zM818 843h1v1h1v1h1v1h-1v1h-1v1h-1v-1h-1v-1h-1v-1h1v-1h1zM819 828h1v1h1v1h1v1h-1v1h-1v1h-1v-1h-1v-1h-1v-1h1v-1h1zM819 829h1v1h1v1h1v1h-1v1h-1v1h-1v-1h-1v-1h-1v-1h1v-1h1zM819 830h1v1h1v1h1v1h-1v1h-1v1h-1v-1h-1v-1h-1v-1h1v-1h1zM819 831h1v1h1v1h1v1h-1v1h-1v1h-1v-1h-1v-1h-1v-1h1v-1h1zM819 832h1v1h1v1h1v1h-1v1h-1v1h-1v-1h-1v-1h-1v-1h1v-1h1zM819 833h1v1h1v1h1v1h-1v1h-1v1h-1v-1h-1v-1h-1v-1h1v-1h1zM819 834h1v1h1v1h1v1h-1v1h-1v1h-1v-1h-1v-1h-1v-1h1v-1h1zM819 835h1v1h1v1h1v1h-1v1h-1v1h-1v-1h-1v-1h-1v-1h1v-1h1zM819 836h1v1h1v1h1v1h-1v1h-1v1h-1v-1h-1v-1h-1v-1h1v-1h1zM819 837h1v1h1v1h1v1h-1v1h-1v1h-1v-1h-1v-1h-1v-1h1v-1h1zM819 838h1v1h1v1h1v1h-1v1h-1v1h-1v-1h-1v-1h-1v-1h1v-1h1zM819 839h1v1h1v1h1v1h-1v1h-1v1h-1v-1h-1v-1h-1v-1h1v-1h1zM819 840h1v1h1v1h1v1h-1v1h-1v1h-1v-1h-1v-1h-1v-1h1v-1h1zM819 841h1v1h1v1h1v1h-1v1h-1v1h-1v-1h-1v-1h-1v-1h1v-1h1zM819 842h1v1h1v1h1v1h-1v1h-1v1h-1v-1h-1v-1h-1v-1h1v-1h1zM819 843h1v1h1v1h1v1h-1v1h-1v1h-1v-1h-1v-1h-1v-1h1v-1h1zM820 813h1v1h1v1h1v1h-1v1h-1v1h-1v-1h-1v-1h-1v-1h1v-1h1zM820 822h1v1h1v1h1v1h-1v1h-1v1h-1v-1h-1v-1h-1v-1h1v-1h1zM820 828h1v1h1v1h1v1h-1v1h-1v1h-1v-1h-1v-1h-1v-1h1v-1h1zM820 829h1v1h1v1h1v1h-1v1h-1v1h-1v-1h-1v-1h-1v-1h1v-1h1zM820 830h1v1h1v1h1v1h-1v1h-1v1h-1v-1h-1v-1h-1v-1h1v-1h1zM820 831h1v1h1v1h1v1h-1v1h-1v1h-1v-1h-1v-1h-1v-1h1v-1h1zM820 832h1v1h1v1h1v1h-1v1h-1v1h-1v-1h-1v-1h-1v-1h1v-1h1zM820 833h1v1h1v1h1v1h-1v1h-1v1h-1v-1h-1v-1h-1v-1h1v-1h1zM820 834h1v1h1v1h1v1h-1v1h-1v1h-1v-1h-1v-1h-1v-1h1v-1h1zM820 835h1v1h1v1h1v1h-1v1h-1v1h-1v-1h-1v-1h-1v-1h1v-1h1zM820 836h1v1h1v1h1v1h-1v1h-1v1h-1v-1h-1v-1h-1v-1h1v-1h1zM820 837h1v1h1v1h1v1h-1v1h-1v1h-1v-1h-1v-1h-1v-1h1v-1h1zM820 838h1v1h1v1h1v1h-1v1h-1v1h-1v-1h-1v-1h-1v-1h1v-1h1zM820 839h1v1h1v1h1v1h-1v1h-1v1h-1v-1h-1v-1h-1v-1h1v-1h1zM820 840h1v1h1v1h1v1h-1v1h-1v1h-1v-1h-1v-1h-1v-1h1v-1h1zM820 841h1v1h1v1h1v1h-1v1h-1v1h-1v-1h-1v-1h-1v-1h1v-1h1zM820 842h1v1h1v1h1v1h-1v1h-1v1h-1v-1h-1v-1h-1v-1h1v-1h1zM820 843h1v1h1v1h1v1h-1v1h-1v1h-1v-1h-1v-1h-1v-1h1v-1h1zM820 844h1v1h1v1h1v1h-1v1h-1v1h-1v-1h-1v-1h-1v-1h1v-1h1zM820 845h1v1h1v1h1v1h-1v1h-1v1h-1v-1h-1v-1h-1v-1h1v-1h1zM820 846h1v1h1v1h1v1h-1v1h-1v1h-1v-1h-1v-1h-1v-1h1v-1h1zM820 847h1v1h1v1h1v1h-1v1h-1v1h-1v-1h-1v-1h-1v-1h1v-1h1zM820 848h1v1h1v1h1v1h-1v1h-1v1h-1v-1h-1v-1h-1v-1h1v-1h1zM820 849h1v1h1v1h1v1h-1v1h-1v1h-1v-1h-1v-1h-1v-1h1v-1h1zM820 850h1v1h1v1h1v1h-1v1h-1v1h-1v-1h-1v-1h-1v-1h1v-1h1zM820 851h1v1h1v1h1v1h-1v1h-1v1h-1v-1h-1v-1h-1v-1h1v-1h1zM820 852h1v1h1v1h1v1h-1v1h-1v1h-1v-1h-1v-1h-1v-1h1v-1h1zM820 853h1v1h1v1h1v1h-1v1h-1v1h-1v-1h-1v-1h-1v-1h1v-1h1zM820 854h1v1h1v1h1v1h-1v1h-1v1h-1v-1h-1v-1h-1v-1h1v-1h1zM820 855h1v1h1v1h1v1h-1v1h-1v1h-1v-1h-1v-1h-1v-1h1v-1h1zM820 856h1v1h1v1h1v1h-1v1h-1v1h-1v-1h-1v-1h-1v-1h1v-1h1zM820 866h1v1h1v1h1v1h-1v1h-1v1h-1v-1h-1v-1h-1v-1h1v-1h1zM820 872h1v1h1v1h1v1h-1v1h-1v1h-1v-1h-1v-1h-1v-1h1v-1h1zM820 875h1v1h1v1h1v1h-1v1h-1v1h-1v-1h-1v-1h-1v-1h1v-1h1zM942 471h1v1h1v1h1v1h-1v1h-1v1h-1v-1h-1v-1h-1v-1h1v-1h1zM943 456h1v1h1v1h1v1h-1v1h-1v1h-1v-1h-1v-1h-1v-1h1v-1h1zM943 465h1v1h1v1h1v1h-1v1h-1v1h-1v-1h-1v-1h-1v-1h1v-1h1zM943 467h1v1h1v1h1v1h-1v1h-1v1h-1v-1h-1v-1h-1v-1h1v-1h1zM943 469h1v1h1v1h1v1h-1v1h-1v1h-1v-1h-1v-1h-1v-1h1v-1h1zM943 473h1v1h1v1h1v1h-1v1h-1v1h-1v-1h-1v-1h-1v-1h1v-1h1zM943 495h1v1h1v1h1v1h-1v1h-1v1h-1v-1h-1v-1h-1v-1h1v-1h1zM943 499h1v1h1v1h1v1h-1v1h-1v1h-1v-1h-1v-1h-1v-1h1v-1h1zM943 511h1v1h1v1h1v1h-1v1h-1v1h-1v-1h-1v-1h-1v-1h1v-1h1zM943 514h1v1h1v1h1v1h-1v1h-1v1h-1v-1h-1v-1h-1v-1h1v-1h1zM943 520h1v1h1v1h1v1h-1v1h-1v1h-1v-1h-1v-1h-1v-1h1v-1h1zM943 530h1v1h1v1h1v1h-1v1h-1v1h-1v-1h-1v-1h-1v-1h1v-1h1zM943 548h1v1h1v1h1v1h-1v1h-1v1h-1v-1h-1v-1h-1v-1h1v-1h1zM943 606h1v1h1v1h1v1h-1v1h-1v1h-1v-1h-1v-1h-1v-1h1v-1h1zM943 689h1v1h1v1h1v1h-1v1h-1v1h-1v-1h-1v-1h-1v-1h1v-1h1zM1133 389h1v1h1v1h1v1h-1v1h-1v1h-1v-1h-1v-1h-1v-1h1v-1h1zM1134 364h1v1h1v1h1v1h-1v1h-1v1h-1v-1h-1v-1h-1v-1h1v-1h1zM1134 371h1v1h1v1h1v1h-1v1h-1v1h-1v-1h-1v-1h-1v-1h1v-1h1zM1134 376h1v1h1v1h1v1h-1v1h-1v1h-1v-1h-1v-1h-1v-1h1v-1h1zM1134 377h1v1h1v1h1v1h-1v1h-1v1h-1v-1h-1v-1h-1v-1h1v-1h1zM1134 378h1v1h1v1h1v1h-1v1h-1v1h-1v-1h-1v-1h-1v-1h1v-1h1zM1134 379h1v1h1v1h1v1h-1v1h-1v1h-1v-1h-1v-1h-1v-1h1v-1h1zM1134 380h1v1h1v1h1v1h-1v1h-1v1h-1v-1h-1v-1h-1v-1h1v-1h1zM1134 381h1v1h1v1h1v1h-1v1h-1v1h-1v-1h-1v-1h-1v-1h1v-1h1zM1134 382h1v1h1v1h1v1h-1v1h-1v1h-1v-1h-1v-1h-1v-1h1v-1h1zM1134 383h1v1h1v1h1v1h-1v1h-1v1h-1v-1h-1v-1h-1v-1h1v-1h1zM1134 384h1v1h1v1h1v1h-1v1h-1v1h-1v-1h-1v-1h-1v-1h1v-1h1zM1134 385h1v1h1v1h1v1h-1v1h-1v1h-1v-1h-1v-1h-1v-1h1v-1h1zM1134 386h1v1h1v1h1v1h-1v1h-1v1h-1v-1h-1v-1h-1v-1h1v-1h1zM1136 363h1v1h1v1h1v1h-1v1h-1v1h-1v-1h-1v-1h-1v-1h1v-1h1zM1136 364h1v1h1v1h1v1h-1v1h-1v1h-1v-1h-1v-1h-1v-1h1v-1h1zM1136 365h1v1h1v1h1v1h-1v1h-1v1h-1v-1h-1v-1h-1v-1h1v-1h1zM1137 324h1v1h1v1h1v1h-1v1h-1v1h-1v-1h-1v-1h-1v-1h1v-1h1zM1137 325h1v1h1v1h1v1h-1v1h-1v1h-1v-1h-1v-1h-1v-1h1v-1h1zM1137 333h1v1h1v1h1v1h-1v1h-1v1h-1v-1h-1v-1h-1v-1h1v-1h1zM1137 334h1v1h1v1h1v1h-1v1h-1v1h-1v-1h-1v-1h-1v-1h1v-1h1zM1137 335h1v1h1v1h1v1h-1v1h-1v1h-1v-1h-1v-1h-1v-1h1v-1h1zM1137 336h1v1h1v1h1v1h-1v1h-1v1h-1v-1h-1v-1h-1v-1h1v-1h1zM1137 337h1v1h1v1h1v1h-1v1h-1v1h-1v-1h-1v-1h-1v-1h1v-1h1zM1137 338h1v1h1v1h1v1h-1v1h-1v1h-1v-1h-1v-1h-1v-1h1v-1h1zM1137 339h1v1h1v1h1v1h-1v1h-1v1h-1v-1h-1v-1h-1v-1h1v-1h1zM1137 340h1v1h1v1h1v1h-1v1h-1v1h-1v-1h-1v-1h-1v-1h1v-1h1zM1137 341h1v1h1v1h1v1h-1v1h-1v1h-1v-1h-1v-1h-1v-1h1v-1h1zM1137 342h1v1h1v1h1v1h-1v1h-1v1h-1v-1h-1v-1h-1v-1h1v-1h1zM1137 343h1v1h1v1h1v1h-1v1h-1v1h-1v-1h-1v-1h-1v-1h1v-1h1zM1137 344h1v1h1v1h1v1h-1v1h-1v1h-1v-1h-1v-1h-1v-1h1v-1h1zM1137 345h1v1h1v1h1v1h-1v1h-1v1h-1v-1h-1v-1h-1v-1h1v-1h1zM1137 346h1v1h1v1h1v1h-1v1h-1v1h-1v-1h-1v-1h-1v-1h1v-1h1zM1137 347h1v1h1v1h1v1h-1v1h-1v1h-1v-1h-1v-1h-1v-1h1v-1h1zM1137 348h1v1h1v1h1v1h-1v1h-1v1h-1v-1h-1v-1h-1v-1h1v-1h1zM1137 349h1v1h1v1h1v1h-1v1h-1v1h-1v-1h-1v-1h-1v-1h1v-1h1zM1137 363h1v1h1v1h1v1h-1v1h-1v1h-1v-1h-1v-1h-1v-1h1v-1h1zM1137 364h1v1h1v1h1v1h-1v1h-1v1h-1v-1h-1v-1h-1v-1h1v-1h1zM1137 365h1v1h1v1h1v1h-1v1h-1v1h-1v-1h-1v-1h-1v-1h1v-1h1zM1138 324h1v1h1v1h1v1h-1v1h-1v1h-1v-1h-1v-1h-1v-1h1v-1h1zM1138 325h1v1h1v1h1v1h-1v1h-1v1h-1v-1h-1v-1h-1v-1h1v-1h1zM1138 333h1v1h1v1h1v1h-1v1h-1v1h-1v-1h-1v-1h-1v-1h1v-1h1zM1138 334h1v1h1v1h1v1h-1v1h-1v1h-1v-1h-1v-1h-1v-1h1v-1h1zM1138 335h1v1h1v1h1v1h-1v1h-1v1h-1v-1h-1v-1h-1v-1h1v-1h1zM1138 336h1v1h1v1h1v1h-1v1h-1v1h-1v-1h-1v-1h-1v-1h1v-1h1zM1138 337h1v1h1v1h1v1h-1v1h-1v1h-1v-1h-1v-1h-1v-1h1v-1h1zM1138 338h1v1h1v1h1v1h-1v1h-1v1h-1v-1h-1v-1h-1v-1h1v-1h1zM1138 339h1v1h1v1h1v1h-1v1h-1v1h-1v-1h-1v-1h-1v-1h1v-1h1zM1138 340h1v1h1v1h1v1h-1v1h-1v1h-1v-1h-1v-1h-1v-1h1v-1h1zM1138 341h1v1h1v1h1v1h-1v1h-1v1h-1v-1h-1v-1h-1v-1h1v-1h1zM1138 342h1v1h1v1h1v1h-1v1h-1v1h-1v-1h-1v-1h-1v-1h1v-1h1zM1138 343h1v1h1v1h1v1h-1v1h-1v1h-1v-1h-1v-1h-1v-1h1v-1h1zM1138 344h1v1h1v1h1v1h-1v1h-1v1h-1v-1h-1v-1h-1v-1h1v-1h1zM1138 345h1v1h1v1h1v1h-1v1h-1v1h-1v-1h-1v-1h-1v-1h1v-1h1zM1138 346h1v1h1v1h1v1h-1v1h-1v1h-1v-1h-1v-1h-1v-1h1v-1h1zM1138 347h1v1h1v1h1v1h-1v1h-1v1h-1v-1h-1v-1h-1v-1h1v-1h1zM1138 348h1v1h1v1h1v1h-1v1h-1v1h-1v-1h-1v-1h-1v-1h1v-1h1zM1138 349h1v1h1v1h1v1h-1v1h-1v1h-1v-1h-1v-1h-1v-1h1v-1h1zM1138 350h1v1h1v1h1v1h-1v1h-1v1h-1v-1h-1v-1h-1v-1h1v-1h1zM1138 351h1v1h1v1h1v1h-1v1h-1v1h-1v-1h-1v-1h-1v-1h1v-1h1zM1138 352h1v1h1v1h1v1h-1v1h-1v1h-1v-1h-1v-1h-1v-1h1v-1h1zM1138 353h1v1h1v1h1v1h-1v1h-1v1h-1v-1h-1v-1h-1v-1h1v-1h1zM1138 354h1v1h1v1h1v1h-1v1h-1v1h-1v-1h-1v-1h-1v-1h1v-1h1zM1138 355h1v1h1v1h1v1h-1v1h-1v1h-1v-1h-1v-1h-1v-1h1v-1h1zM1138 356h1v1h1v1h1v1h-1v1h-1v1h-1v-1h-1v-1h-1v-1h1v-1h1zM1138 357h1v1h1v1h1v1h-1v1h-1v1h-1v-1h-1v-1h-1v-1h1v-1h1zM1138 358h1v1h1v1h1v1h-1v1h-1v1h-1v-1h-1v-1h-1v-1h1v-1h1zM1138 359h1v1h1v1h1v1h-1v1h-1v1h-1v-1h-1v-1h-1v-1h1v-1h1zM1138 360h1v1h1v1h1v1h-1v1h-1v1h-1v-1h-1v-1h-1v-1h1v-1h1zM1138 361h1v1h1v1h1v1h-1v1h-1v1h-1v-1h-1v-1h-1v-1h1v-1h1zM1138 362h1v1h1v1h1v1h-1v1h-1v1h-1v-1h-1v-1h-1v-1h1v-1h1zM1138 363h1v1h1v1h1v1h-1v1h-1v1h-1v-1h-1v-1h-1v-1h1v-1h1zM1138 364h1v1h1v1h1v1h-1v1h-1v1h-1v-1h-1v-1h-1v-1h1v-1h1zM1138 365h1v1h1v1h1v1h-1v1h-1v1h-1v-1h-1v-1h-1v-1h1v-1h1zM1139 324h1v1h1v1h1v1h-1v1h-1v1h-1v-1h-1v-1h-1v-1h1v-1h1zM1139 325h1v1h1v1h1v1h-1v1h-1v1h-1v-1h-1v-1h-1v-1h1v-1h1zM1139 326h1v1h1v1h1v1h-1v1h-1v1h-1v-1h-1v-1h-1v-1h1v-1h1zM1139 327h1v1h1v1h1v1h-1v1h-1v1h-1v-1h-1v-1h-1v-1h1v-1h1zM1139 328h1v1h1v1h1v1h-1v1h-1v1h-1v-1h-1v-1h-1v-1h1v-1h1zM1139 329h1v1h1v1h1v1h-1v1h-1v1h-1v-1h-1v-1h-1v-1h1v-1h1zM1139 330h1v1h1v1h1v1h-1v1h-1v1h-1v-1h-1v-1h-1v-1h1v-1h1zM1139 331h1v1h1v1h1v1h-1v1h-1v1h-1v-1h-1v-1h-1v-1h1v-1h1zM1139 332h1v1h1v1h1v1h-1v1h-1v1h-1v-1h-1v-1h-1v-1h1v-1h1zM1139 333h1v1h1v1h1v1h-1v1h-1v1h-1v-1h-1v-1h-1v-1h1v-1h1zM1139 334h1v1h1v1h1v1h-1v1h-1v1h-1v-1h-1v-1h-1v-1h1v-1h1zM1139 335h1v1h1v1h1v1h-1v1h-1v1h-1v-1h-1v-1h-1v-1h1v-1h1zM1139 336h1v1h1v1h1v1h-1v1h-1v1h-1v-1h-1v-1h-1v-1h1v-1h1zM1139 337h1v1h1v1h1v1h-1v1h-1v1h-1v-1h-1v-1h-1v-1h1v-1h1zM1139 338h1v1h1v1h1v1h-1v1h-1v1h-1v-1h-1v-1h-1v-1h1v-1h1zM1139 339h1v1h1v1h1v1h-1v1h-1v1h-1v-1h-1v-1h-1v-1h1v-1h1zM1139 340h1v1h1v1h1v1h-1v1h-1v1h-1v-1h-1v-1h-1v-1h1v-1h1zM1139 341h1v1h1v1h1v1h-1v1h-1v1h-1v-1h-1v-1h-1v-1h1v-1h1zM1139 342h1v1h1v1h1v1h-1v1h-1v1h-1v-1h-1v-1h-1v-1h1v-1h1zM1139 343h1v1h1v1h1v1h-1v1h-1v1h-1v-1h-1v-1h-1v-1h1v-1h1zM1139 344h1v1h1v1h1v1h-1v1h-1v1h-1v-1h-1v-1h-1v-1h1v-1h1zM1139 345h1v1h1v1h1v1h-1v1h-1v1h-1v-1h-1v-1h-1v-1h1v-1h1zM1139 346h1v1h1v1h1v1h-1v1h-1v1h-1v-1h-1v-1h-1v-1h1v-1h1zM1139 347h1v1h1v1h1v1h-1v1h-1v1h-1v-1h-1v-1h-1v-1h1v-1h1zM1139 348h1v1h1v1h1v1h-1v1h-1v1h-1v-1h-1v-1h-1v-1h1v-1h1zM1139 349h1v1h1v1h1v1h-1v1h-1v1h-1v-1h-1v-1h-1v-1h1v-1h1zM1139 350h1v1h1v1h1v1h-1v1h-1v1h-1v-1h-1v-1h-1v-1h1v-1h1zM1139 351h1v1h1v1h1v1h-1v1h-1v1h-1v-1h-1v-1h-1v-1h1v-1h1zM1139 352h1v1h1v1h1v1h-1v1h-1v1h-1v-1h-1v-1h-1v-1h1v-1h1zM1139 353h1v1h1v1h1v1h-1v1h-1v1h-1v-1h-1v-1h-1v-1h1v-1h1zM1139 354h1v1h1v1h1v1h-1v1h-1v1h-1v-1h-1v-1h-1v-1h1v-1h1zM1139 355h1v1h1v1h1v1h-1v1h-1v1h-1v-1h-1v-1h-1v-1h1v-1h1zM1139 356h1v1h1v1h1v1h-1v1h-1v1h-1v-1h-1v-1h-1v-1h1v-1h1zM1139 357h1v1h1v1h1v1h-1v1h-1v1h-1v-1h-1v-1h-1v-1h1v-1h1zM1139 358h1v1h1v1h1v1h-1v1h-1v1h-1v-1h-1v-1h-1v-1h1v-1h1zM1139 359h1v1h1v1h1v1h-1v1h-1v1h-1v-1h-1v-1h-1v-1h1v-1h1zM1139 360h1v1h1v1h1v1h-1v1h-1v1h-1v-1h-1v-1h-1v-1h1v-1h1zM1139 361h1v1h1v1h1v1h-1v1h-1v1h-1v-1h-1v-1h-1v-1h1v-1h1zM1139 362h1v1h1v1h1v1h-1v1h-1v1h-1v-1h-1v-1h-1v-1h1v-1h1zM1139 363h1v1h1v1h1v1h-1v1h-1v1h-1v-1h-1v-1h-1v-1h1v-1h1zM1139 364h1v1h1v1h1v1h-1v1h-1v1h-1v-1h-1v-1h-1v-1h1v-1h1zM1139 365h1v1h1v1h1v1h-1v1h-1v1h-1v-1h-1v-1h-1v-1h1v-1h1zM1139 418h1v1h1v1h1v1h-1v1h-1v1h-1v-1h-1v-1h-1v-1h1v-1h1zM1139 435h1v1h1v1h1v1h-1v1h-1v1h-1v-1h-1v-1h-1v-1h1v-1h1zM1139 437h1v1h1v1h1v1h-1v1h-1v1h-1v-1h-1v-1h-1v-1h1v-1h1zM1139 439h1v1h1v1h1v1h-1v1h-1v1h-1v-1h-1v-1h-1v-1h1v-1h1zM1139 441h1v1h1v1h1v1h-1v1h-1v1h-1v-1h-1v-1h-1v-1h1v-1h1zM1139 443h1v1h1v1h1v1h-1v1h-1v1h-1v-1h-1v-1h-1v-1h1v-1h1zM1139 445h1v1h1v1h1v1h-1v1h-1v1h-1v-1h-1v-1h-1v-1h1v-1h1zM1140 324h1v1h1v1h1v1h-1v1h-1v1h-1v-1h-1v-1h-1v-1h1v-1h1zM1140 325h1v1h1v1h1v1h-1v1h-1v1h-1v-1h-1v-1h-1v-1h1v-1h1zM1140 326h1v1h1v1h1v1h-1v1h-1v1h-1v-1h-1v-1h-1v-1h1v-1h1zM1140 327h1v1h1v1h1v1h-1v1h-1v1h-1v-1h-1v-1h-1v-1h1v-1h1zM1140 328h1v1h1v1h1v1h-1v1h-1v1h-1v-1h-1v-1h-1v-1h1v-1h1zM1140 329h1v1h1v1h1v1h-1v1h-1v1h-1v-1h-1v-1h-1v-1h1v-1h1zM1140 330h1v1h1v1h1v1h-1v1h-1v1h-1v-1h-1v-1h-1v-1h1v-1h1zM1140 331h1v1h1v1h1v1h-1v1h-1v1h-1v-1h-1v-1h-1v-1h1v-1h1zM1140 332h1v1h1v1h1v1h-1v1h-1v1h-1v-1h-1v-1h-1v-1h1v-1h1zM1140 333h1v1h1v1h1v1h-1v1h-1v1h-1v-1h-1v-1h-1v-1h1v-1h1zM1140 334h1v1h1v1h1v1h-1v1h-1v1h-1v-1h-1v-1h-1v-1h1v-1h1zM1140 335h1v1h1v1h1v1h-1v1h-1v1h-1v-1h-1v-1h-1v-1h1v-1h1zM1140 336h1v1h1v1h1v1h-1v1h-1v1h-1v-1h-1v-1h-1v-1h1v-1h1zM1140 337h1v1h1v1h1v1h-1v1h-1v1h-1v-1h-1v-1h-1v-1h1v-1h1zM1140 338h1v1h1v1h1v1h-1v1h-1v1h-1v-1h-1v-1h-1v-1h1v-1h1zM1140 339h1v1h1v1h1v1h-1v1h-1v1h-1v-1h-1v-1h-1v-1h1v-1h1zM1140 340h1v1h1v1h1v1h-1v1h-1v1h-1v-1h-1v-1h-1v-1h1v-1h1zM1140 341h1v1h1v1h1v1h-1v1h-1v1h-1v-1h-1v-1h-1v-1h1v-1h1zM1140 342h1v1h1v1h1v1h-1v1h-1v1h-1v-1h-1v-1h-1v-1h1v-1h1zM1140 343h1v1h1v1h1v1h-1v1h-1v1h-1v-1h-1v-1h-1v-1h1v-1h1zM1140 344h1v1h1v1h1v1h-1v1h-1v1h-1v-1h-1v-1h-1v-1h1v-1h1zM1140 345h1v1h1v1h1v1h-1v1h-1v1h-1v-1h-1v-1h-1v-1h1v-1h1zM1140 346h1v1h1v1h1v1h-1v1h-1v1h-1v-1h-1v-1h-1v-1h1v-1h1zM1140 347h1v1h1v1h1v1h-1v1h-1v1h-1v-1h-1v-1h-1v-1h1v-1h1zM1140 348h1v1h1v1h1v1h-1v1h-1v1h-1v-1h-1v-1h-1v-1h1v-1h1zM1140 349h1v1h1v1h1v1h-1v1h-1v1h-1v-1h-1v-1h-1v-1h1v-1h1zM1140 350h1v1h1v1h1v1h-1v1h-1v1h-1v-1h-1v-1h-1v-1h1v-1h1zM1140 351h1v1h1v1h1v1h-1v1h-1v1h-1v-1h-1v-1h-1v-1h1v-1h1zM1140 352h1v1h1v1h1v1h-1v1h-1v1h-1v-1h-1v-1h-1v-1h1v-1h1zM1140 353h1v1h1v1h1v1h-1v1h-1v1h-1v-1h-1v-1h-1v-1h1v-1h1zM1140 354h1v1h1v1h1v1h-1v1h-1v1h-1v-1h-1v-1h-1v-1h1v-1h1zM1140 355h1v1h1v1h1v1h-1v1h-1v1h-1v-1h-1v-1h-1v-1h1v-1h1zM1140 356h1v1h1v1h1v1h-1v1h-1v1h-1v-1h-1v-1h-1v-1h1v-1h1zM1140 357h1v1h1v1h1v1h-1v1h-1v1h-1v-1h-1v-1h-1v-1h1v-1h1zM1140 358h1v1h1v1h1v1h-1v1h-1v1h-1v-1h-1v-1h-1v-1h1v-1h1zM1140 359h1v1h1v1h1v1h-1v1h-1v1h-1v-1h-1v-1h-1v-1h1v-1h1zM1140 360h1v1h1v1h1v1h-1v1h-1v1h-1v-1h-1v-1h-1v-1h1v-1h1zM1140 361h1v1h1v1h1v1h-1v1h-1v1h-1v-1h-1v-1h-1v-1h1v-1h1zM1140 362h1v1h1v1h1v1h-1v1h-1v1h-1v-1h-1v-1h-1v-1h1v-1h1zM1140 363h1v1h1v1h1v1h-1v1h-1v1h-1v-1h-1v-1h-1v-1h1v-1h1zM1140 364h1v1h1v1h1v1h-1v1h-1v1h-1v-1h-1v-1h-1v-1h1v-1h1zM1140 365h1v1h1v1h1v1h-1v1h-1v1h-1v-1h-1v-1h-1v-1h1v-1h1zM1140 366h1v1h1v1h1v1h-1v1h-1v1h-1v-1h-1v-1h-1v-1h1v-1h1zM1140 367h1v1h1v1h1v1h-1v1h-1v1h-1v-1h-1v-1h-1v-1h1v-1h1zM1140 368h1v1h1v1h1v1h-1v1h-1v1h-1v-1h-1v-1h-1v-1h1v-1h1zM1140 369h1v1h1v1h1v1h-1v1h-1v1h-1v-1h-1v-1h-1v-1h1v-1h1zM1140 370h1v1h1v1h1v1h-1v1h-1v1h-1v-1h-1v-1h-1v-1h1v-1h1zM1140 371h1v1h1v1h1v1h-1v1h-1v1h-1v-1h-1v-1h-1v-1h1v-1h1zM1140 372h1v1h1v1h1v1h-1v1h-1v1h-1v-1h-1v-1h-1v-1h1v-1h1zM1140 373h1v1h1v1h1v1h-1v1h-1v1h-1v-1h-1v-1h-1v-1h1v-1h1zM1140 374h1v1h1v1h1v1h-1v1h-1v1h-1v-1h-1v-1h-1v-1h1v-1h1zM1140 375h1v1h1v1h1v1h-1v1h-1v1h-1v-1h-1v-1h-1v-1h1v-1h1zM1140 376h1v1h1v1h1v1h-1v1h-1v1h-1v-1h-1v-1h-1v-1h1v-1h1zM1140 377h1v1h1v1h1v1h-1v1h-1v1h-1v-1h-1v-1h-1v-1h1v-1h1zM1140 378h1v1h1v1h1v1h-1v1h-1v1h-1v-1h-1v-1h-1v-1h1v-1h1zM1140 379h1v1h1v1h1v1h-1v1h-1v1h-1v-1h-1v-1h-1v-1h1v-1h1zM1140 380h1v1h1v1h1v1h-1v1h-1v1h-1v-1h-1v-1h-1v-1h1v-1h1zM1140 381h1v1h1v1h1v1h-1v1h-1v1h-1v-1h-1v-1h-1v-1h1v-1h1zM1140 382h1v1h1v1h1v1h-1v1h-1v1h-1v-1h-1v-1h-1v-1h1v-1h1zM1140 383h1v1h1v1h1v1h-1v1h-1v1h-1v-1h-1v-1h-1v-1h1v-1h1zM1140 384h1v1h1v1h1v1h-1v1h-1v1h-1v-1h-1v-1h-1v-1h1v-1h1zM1140 385h1v1h1v1h1v1h-1v1h-1v1h-1v-1h-1v-1h-1v-1h1v-1h1zM1140 386h1v1h1v1h1v1h-1v1h-1v1h-1v-1h-1v-1h-1v-1h1v-1h1zM1140 392h1v1h1v1h1v1h-1v1h-1v1h-1v-1h-1v-1h-1v-1h1v-1h1zM1140 394h1v1h1v1h1v1h-1v1h-1v1h-1v-1h-1v-1h-1v-1h1v-1h1zM1140 396h1v1h1v1h1v1h-1v1h-1v1h-1v-1h-1v-1h-1v-1h1v-1h1zM1141 324h1v1h1v1h1v1h-1v1h-1v1h-1v-1h-1v-1h-1v-1h1v-1h1zM1141 325h1v1h1v1h1v1h-1v1h-1v1h-1v-1h-1v-1h-1v-1h1v-1h1zM1141 326h1v1h1v1h1v1h-1v1h-1v1h-1v-1h-1v-1h-1v-1h1v-1h1zM1141 327h1v1h1v1h1v1h-1v1h-1v1h-1v-1h-1v-1h-1v-1h1v-1h1zM1141 328h1v1h1v1h1v1h-1v1h-1v1h-1v-1h-1v-1h-1v-1h1v-1h1zM1141 329h1v1h1v1h1v1h-1v1h-1v1h-1v-1h-1v-1h-1v-1h1v-1h1zM1141 330h1v1h1v1h1v1h-1v1h-1v1h-1v-1h-1v-1h-1v-1h1v-1h1zM1141 331h1v1h1v1h1v1h-1v1h-1v1h-1v-1h-1v-1h-1v-1h1v-1h1zM1141 332h1v1h1v1h1v1h-1v1h-1v1h-1v-1h-1v-1h-1v-1h1v-1h1zM1141 333h1v1h1v1h1v1h-1v1h-1v1h-1v-1h-1v-1h-1v-1h1v-1h1zM1141 334h1v1h1v1h1v1h-1v1h-1v1h-1v-1h-1v-1h-1v-1h1v-1h1zM1141 335h1v1h1v1h1v1h-1v1h-1v1h-1v-1h-1v-1h-1v-1h1v-1h1zM1141 336h1v1h1v1h1v1h-1v1h-1v1h-1v-1h-1v-1h-1v-1h1v-1h1zM1141 337h1v1h1v1h1v1h-1v1h-1v1h-1v-1h-1v-1h-1v-1h1v-1h1zM1141 338h1v1h1v1h1v1h-1v1h-1v1h-1v-1h-1v-1h-1v-1h1v-1h1zM1141 339h1v1h1v1h1v1h-1v1h-1v1h-1v-1h-1v-1h-1v-1h1v-1h1zM1141 340h1v1h1v1h1v1h-1v1h-1v1h-1v-1h-1v-1h-1v-1h1v-1h1zM1141 341h1v1h1v1h1v1h-1v1h-1v1h-1v-1h-1v-1h-1v-1h1v-1h1zM1141 342h1v1h1v1h1v1h-1v1h-1v1h-1v-1h-1v-1h-1v-1h1v-1h1zM1141 343h1v1h1v1h1v1h-1v1h-1v1h-1v-1h-1v-1h-1v-1h1v-1h1zM1141 344h1v1h1v1h1v1h-1v1h-1v1h-1v-1h-1v-1h-1v-1h1v-1h1zM1141 345h1v1h1v1h1v1h-1v1h-1v1h-1v-1h-1v-1h-1v-1h1v-1h1zM1141 346h1v1h1v1h1v1h-1v1h-1v1h-1v-1h-1v-1h-1v-1h1v-1h1zM1141 347h1v1h1v1h1v1h-1v1h-1v1h-1v-1h-1v-1h-1v-1h1v-1h1zM1141 348h1v1h1v1h1v1h-1v1h-1v1h-1v-1h-1v-1h-1v-1h1v-1h1zM1141 349h1v1h1v1h1v1h-1v1h-1v1h-1v-1h-1v-1h-1v-1h1v-1h1zM1141 350h1v1h1v1h1v1h-1v1h-1v1h-1v-1h-1v-1h-1v-1h1v-1h1zM1141 351h1v1h1v1h1v1h-1v1h-1v1h-1v-1h-1v-1h-1v-1h1v-1h1zM1141 352h1v1h1v1h1v1h-1v1h-1v1h-1v-1h-1v-1h-1v-1h1v-1h1zM1141 353h1v1h1v1h1v1h-1v1h-1v1h-1v-1h-1v-1h-1v-1h1v-1h1zM1141 354h1v1h1v1h1v1h-1v1h-1v1h-1v-1h-1v-1h-1v-1h1v-1h1zM1141 355h1v1h1v1h1v1h-1v1h-1v1h-1v-1h-1v-1h-1v-1h1v-1h1zM1141 356h1v1h1v1h1v1h-1v1h-1v1h-1v-1h-1v-1h-1v-1h1v-1h1zM1141 357h1v1h1v1h1v1h-1v1h-1v1h-1v-1h-1v-1h-1v-1h1v-1h1zM1141 358h1v1h1v1h1v1h-1v1h-1v1h-1v-1h-1v-1h-1v-1h1v-1h1zM1141 359h1v1h1v1h1v1h-1v1h-1v1h-1v-1h-1v-1h-1v-1h1v-1h1zM1141 360h1v1h1v1h1v1h-1v1h-1v1h-1v-1h-1v-1h-1v-1h1v-1h1zM1141 361h1v1h1v1h1v1h-1v1h-1v1h-1v-1h-1v-1h-1v-1h1v-1h1zM1141 362h1v1h1v1h1v1h-1v1h-1v1h-1v-1h-1v-1h-1v-1h1v-1h1zM1141 363h1v1h1v1h1v1h-1v1h-1v1h-1v-1h-1v-1h-1v-1h1v-1h1zM1141 364h1v1h1v1h1v1h-1v1h-1v1h-1v-1h-1v-1h-1v-1h1v-1h1zM1141 365h1v1h1v1h1v1h-1v1h-1v1h-1v-1h-1v-1h-1v-1h1v-1h1zM1141 366h1v1h1v1h1v1h-1v1h-1v1h-1v-1h-1v-1h-1v-1h1v-1h1zM1141 367h1v1h1v1h1v1h-1v1h-1v1h-1v-1h-1v-1h-1v-1h1v-1h1zM1141 368h1v1h1v1h1v1h-1v1h-1v1h-1v-1h-1v-1h-1v-1h1v-1h1zM1141 369h1v1h1v1h1v1h-1v1h-1v1h-1v-1h-1v-1h-1v-1h1v-1h1zM1141 370h1v1h1v1h1v1h-1v1h-1v1h-1v-1h-1v-1h-1v-1h1v-1h1zM1141 371h1v1h1v1h1v1h-1v1h-1v1h-1v-1h-1v-1h-1v-1h1v-1h1zM1141 372h1v1h1v1h1v1h-1v1h-1v1h-1v-1h-1v-1h-1v-1h1v-1h1zM1141 373h1v1h1v1h1v1h-1v1h-1v1h-1v-1h-1v-1h-1v-1h1v-1h1zM1141 374h1v1h1v1h1v1h-1v1h-1v1h-1v-1h-1v-1h-1v-1h1v-1h1zM1141 375h1v1h1v1h1v1h-1v1h-1v1h-1v-1h-1v-1h-1v-1h1v-1h1zM1141 376h1v1h1v1h1v1h-1v1h-1v1h-1v-1h-1v-1h-1v-1h1v-1h1zM1141 377h1v1h1v1h1v1h-1v1h-1v1h-1v-1h-1v-1h-1v-1h1v-1h1zM1141 378h1v1h1v1h1v1h-1v1h-1v1h-1v-1h-1v-1h-1v-1h1v-1h1zM1141 379h1v1h1v1h1v1h-1v1h-1v1h-1v-1h-1v-1h-1v-1h1v-1h1zM1141 380h1v1h1v1h1v1h-1v1h-1v1h-1v-1h-1v-1h-1v-1h1v-1h1zM1141 381h1v1h1v1h1v1h-1v1h-1v1h-1v-1h-1v-1h-1v-1h1v-1h1zM1142 324h1v1h1v1h1v1h-1v1h-1v1h-1v-1h-1v-1h-1v-1h1v-1h1zM1142 325h1v1h1v1h1v1h-1v1h-1v1h-1v-1h-1v-1h-1v-1h1v-1h1zM1142 326h1v1h1v1h1v1h-1v1h-1v1h-1v-1h-1v-1h-1v-1h1v-1h1zM1142 327h1v1h1v1h1v1h-1v1h-1v1h-1v-1h-1v-1h-1v-1h1v-1h1zM1142 328h1v1h1v1h1v1h-1v1h-1v1h-1v-1h-1v-1h-1v-1h1v-1h1zM1142 329h1v1h1v1h1v1h-1v1h-1v1h-1v-1h-1v-1h-1v-1h1v-1h1zM1142 330h1v1h1v1h1v1h-1v1h-1v1h-1v-1h-1v-1h-1v-1h1v-1h1zM1142 331h1v1h1v1h1v1h-1v1h-1v1h-1v-1h-1v-1h-1v-1h1v-1h1zM1142 332h1v1h1v1h1v1h-1v1h-1v1h-1v-1h-1v-1h-1v-1h1v-1h1zM1142 333h1v1h1v1h1v1h-1v1h-1v1h-1v-1h-1v-1h-1v-1h1v-1h1zM1142 334h1v1h1v1h1v1h-1v1h-1v1h-1v-1h-1v-1h-1v-1h1v-1h1zM1142 335h1v1h1v1h1v1h-1v1h-1v1h-1v-1h-1v-1h-1v-1h1v-1h1zM1142 336h1v1h1v1h1v1h-1v1h-1v1h-1v-1h-1v-1h-1v-1h1v-1h1zM1142 337h1v1h1v1h1v1h-1v1h-1v1h-1v-1h-1v-1h-1v-1h1v-1h1zM1142 338h1v1h1v1h1v1h-1v1h-1v1h-1v-1h-1v-1h-1v-1h1v-1h1zM1142 339h1v1h1v1h1v1h-1v1h-1v1h-1v-1h-1v-1h-1v-1h1v-1h1zM1142 340h1v1h1v1h1v1h-1v1h-1v1h-1v-1h-1v-1h-1v-1h1v-1h1zM1142 341h1v1h1v1h1v1h-1v1h-1v1h-1v-1h-1v-1h-1v-1h1v-1h1zM1142 342h1v1h1v1h1v1h-1v1h-1v1h-1v-1h-1v-1h-1v-1h1v-1h1zM1142 343h1v1h1v1h1v1h-1v1h-1v1h-1v-1h-1v-1h-1v-1h1v-1h1zM1142 344h1v1h1v1h1v1h-1v1h-1v1h-1v-1h-1v-1h-1v-1h1v-1h1zM1142 345h1v1h1v1h1v1h-1v1h-1v1h-1v-1h-1v-1h-1v-1h1v-1h1zM1142 346h1v1h1v1h1v1h-1v1h-1v1h-1v-1h-1v-1h-1v-1h1v-1h1zM1142 347h1v1h1v1h1v1h-1v1h-1v1h-1v-1h-1v-1h-1v-1h1v-1h1zM1142 348h1v1h1v1h1v1h-1v1h-1v1h-1v-1h-1v-1h-1v-1h1v-1h1zM1142 349h1v1h1v1h1v1h-1v1h-1v1h-1v-1h-1v-1h-1v-1h1v-1h1zM1142 350h1v1h1v1h1v1h-1v1h-1v1h-1v-1h-1v-1h-1v-1h1v-1h1zM1142 351h1v1h1v1h1v1h-1v1h-1v1h-1v-1h-1v-1h-1v-1h1v-1h1zM1142 352h1v1h1v1h1v1h-1v1h-1v1h-1v-1h-1v-1h-1v-1h1v-1h1zM1142 353h1v1h1v1h1v1h-1v1h-1v1h-1v-1h-1v-1h-1v-1h1v-1h1zM1142 354h1v1h1v1h1v1h-1v1h-1v1h-1v-1h-1v-1h-1v-1h1v-1h1zM1142 355h1v1h1v1h1v1h-1v1h-1v1h-1v-1h-1v-1h-1v-1h1v-1h1zM1142 356h1v1h1v1h1v1h-1v1h-1v1h-1v-1h-1v-1h-1v-1h1v-1h1zM1142 357h1v1h1v1h1v1h-1v1h-1v1h-1v-1h-1v-1h-1v-1h1v-1h1zM1142 358h1v1h1v1h1v1h-1v1h-1v1h-1v-1h-1v-1h-1v-1h1v-1h1zM1142 359h1v1h1v1h1v1h-1v1h-1v1h-1v-1h-1v-1h-1v-1h1v-1h1zM1142 360h1v1h1v1h1v1h-1v1h-1v1h-1v-1h-1v-1h-1v-1h1v-1h1zM1142 361h1v1h1v1h1v1h-1v1h-1v1h-1v-1h-1v-1h-1v-1h1v-1h1zM1142 362h1v1h1v1h1v1h-1v1h-1v1h-1v-1h-1v-1h-1v-1h1v-1h1zM1142 363h1v1h1v1h1v1h-1v1h-1v1h-1v-1h-1v-1h-1v-1h1v-1h1zM1142 364h1v1h1v1h1v1h-1v1h-1v1h-1v-1h-1v-1h-1v-1h1v-1h1zM1142 365h1v1h1v1h1v1h-1v1h-1v1h-1v-1h-1v-1h-1v-1h1v-1h1zM1142 366h1v1h1v1h1v1h-1v1h-1v1h-1v-1h-1v-1h-1v-1h1v-1h1zM1142 367h1v1h1v1h1v1h-1v1h-1v1h-1v-1h-1v-1h-1v-1h1v-1h1zM1142 368h1v1h1v1h1v1h-1v1h-1v1h-1v-1h-1v-1h-1v-1h1v-1h1zM1142 369h1v1h1v1h1v1h-1v1h-1v1h-1v-1h-1v-1h-1v-1h1v-1h1zM1142 370h1v1h1v1h1v1h-1v1h-1v1h-1v-1h-1v-1h-1v-1h1v-1h1zM1142 371h1v1h1v1h1v1h-1v1h-1v1h-1v-1h-1v-1h-1v-1h1v-1h1zM1142 372h1v1h1v1h1v1h-1v1h-1v1h-1v-1h-1v-1h-1v-1h1v-1h1zM1142 373h1v1h1v1h1v1h-1v1h-1v1h-1v-1h-1v-1h-1v-1h1v-1h1zM1142 374h1v1h1v1h1v1h-1v1h-1v1h-1v-1h-1v-1h-1v-1h1v-1h1zM1142 375h1v1h1v1h1v1h-1v1h-1v1h-1v-1h-1v-1h-1v-1h1v-1h1zM1142 376h1v1h1v1h1v1h-1v1h-1v1h-1v-1h-1v-1h-1v-1h1v-1h1zM1142 377h1v1h1v1h1v1h-1v1h-1v1h-1v-1h-1v-1h-1v-1h1v-1h1zM1142 378h1v1h1v1h1v1h-1v1h-1v1h-1v-1h-1v-1h-1v-1h1v-1h1zM1142 379h1v1h1v1h1v1h-1v1h-1v1h-1v-1h-1v-1h-1v-1h1v-1h1zM1142 380h1v1h1v1h1v1h-1v1h-1v1h-1v-1h-1v-1h-1v-1h1v-1h1zM1142 381h1v1h1v1h1v1h-1v1h-1v1h-1v-1h-1v-1h-1v-1h1v-1h1zM1143 324h1v1h1v1h1v1h-1v1h-1v1h-1v-1h-1v-1h-1v-1h1v-1h1zM1143 325h1v1h1v1h1v1h-1v1h-1v1h-1v-1h-1v-1h-1v-1h1v-1h1zM1143 326h1v1h1v1h1v1h-1v1h-1v1h-1v-1h-1v-1h-1v-1h1v-1h1zM1143 327h1v1h1v1h1v1h-1v1h-1v1h-1v-1h-1v-1h-1v-1h1v-1h1zM1143 328h1v1h1v1h1v1h-1v1h-1v1h-1v-1h-1v-1h-1v-1h1v-1h1zM1143 329h1v1h1v1h1v1h-1v1h-1v1h-1v-1h-1v-1h-1v-1h1v-1h1zM1143 330h1v1h1v1h1v1h-1v1h-1v1h-1v-1h-1v-1h-1v-1h1v-1h1zM1143 331h1v1h1v1h1v1h-1v1h-1v1h-1v-1h-1v-1h-1v-1h1v-1h1zM1143 332h1v1h1v1h1v1h-1v1h-1v1h-1v-1h-1v-1h-1v-1h1v-1h1zM1143 333h1v1h1v1h1v1h-1v1h-1v1h-1v-1h-1v-1h-1v-1h1v-1h1zM1143 334h1v1h1v1h1v1h-1v1h-1v1h-1v-1h-1v-1h-1v-1h1v-1h1zM1143 335h1v1h1v1h1v1h-1v1h-1v1h-1v-1h-1v-1h-1v-1h1v-1h1zM1143 336h1v1h1v1h1v1h-1v1h-1v1h-1v-1h-1v-1h-1v-1h1v-1h1zM1143 337h1v1h1v1h1v1h-1v1h-1v1h-1v-1h-1v-1h-1v-1h1v-1h1zM1143 338h1v1h1v1h1v1h-1v1h-1v1h-1v-1h-1v-1h-1v-1h1v-1h1zM1143 339h1v1h1v1h1v1h-1v1h-1v1h-1v-1h-1v-1h-1v-1h1v-1h1zM1143 340h1v1h1v1h1v1h-1v1h-1v1h-1v-1h-1v-1h-1v-1h1v-1h1zM1143 341h1v1h1v1h1v1h-1v1h-1v1h-1v-1h-1v-1h-1v-1h1v-1h1zM1143 342h1v1h1v1h1v1h-1v1h-1v1h-1v-1h-1v-1h-1v-1h1v-1h1zM1143 343h1v1h1v1h1v1h-1v1h-1v1h-1v-1h-1v-1h-1v-1h1v-1h1zM1143 344h1v1h1v1h1v1h-1v1h-1v1h-1v-1h-1v-1h-1v-1h1v-1h1zM1143 345h1v1h1v1h1v1h-1v1h-1v1h-1v-1h-1v-1h-1v-1h1v-1h1zM1143 346h1v1h1v1h1v1h-1v1h-1v1h-1v-1h-1v-1h-1v-1h1v-1h1zM1143 347h1v1h1v1h1v1h-1v1h-1v1h-1v-1h-1v-1h-1v-1h1v-1h1zM1143 348h1v1h1v1h1v1h-1v1h-1v1h-1v-1h-1v-1h-1v-1h1v-1h1zM1143 349h1v1h1v1h1v1h-1v1h-1v1h-1v-1h-1v-1h-1v-1h1v-1h1zM1143 350h1v1h1v1h1v1h-1v1h-1v1h-1v-1h-1v-1h-1v-1h1v-1h1zM1143 351h1v1h1v1h1v1h-1v1h-1v1h-1v-1h-1v-1h-1v-1h1v-1h1zM1143 352h1v1h1v1h1v1h-1v1h-1v1h-1v-1h-1v-1h-1v-1h1v-1h1zM1143 353h1v1h1v1h1v1h-1v1h-1v1h-1v-1h-1v-1h-1v-1h1v-1h1zM1143 354h1v1h1v1h1v1h-1v1h-1v1h-1v-1h-1v-1h-1v-1h1v-1h1zM1143 355h1v1h1v1h1v1h-1v1h-1v1h-1v-1h-1v-1h-1v-1h1v-1h1zM1143 356h1v1h1v1h1v1h-1v1h-1v1h-1v-1h-1v-1h-1v-1h1v-1h1zM1143 357h1v1h1v1h1v1h-1v1h-1v1h-1v-1h-1v-1h-1v-1h1v-1h1zM1143 358h1v1h1v1h1v1h-1v1h-1v1h-1v-1h-1v-1h-1v-1h1v-1h1zM1143 359h1v1h1v1h1v1h-1v1h-1v1h-1v-1h-1v-1h-1v-1h1v-1h1zM1143 360h1v1h1v1h1v1h-1v1h-1v1h-1v-1h-1v-1h-1v-1h1v-1h1zM1143 361h1v1h1v1h1v1h-1v1h-1v1h-1v-1h-1v-1h-1v-1h1v-1h1zM1143 362h1v1h1v1h1v1h-1v1h-1v1h-1v-1h-1v-1h-1v-1h1v-1h1zM1143 363h1v1h1v1h1v1h-1v1h-1v1h-1v-1h-1v-1h-1v-1h1v-1h1zM1143 364h1v1h1v1h1v1h-1v1h-1v1h-1v-1h-1v-1h-1v-1h1v-1h1zM1143 365h1v1h1v1h1v1h-1v1h-1v1h-1v-1h-1v-1h-1v-1h1v-1h1zM1143 366h1v1h1v1h1v1h-1v1h-1v1h-1v-1h-1v-1h-1v-1h1v-1h1zM1143 367h1v1h1v1h1v1h-1v1h-1v1h-1v-1h-1v-1h-1v-1h1v-1h1zM1143 368h1v1h1v1h1v1h-1v1h-1v1h-1v-1h-1v-1h-1v-1h1v-1h1zM1143 369h1v1h1v1h1v1h-1v1h-1v1h-1v-1h-1v-1h-1v-1h1v-1h1zM1143 370h1v1h1v1h1v1h-1v1h-1v1h-1v-1h-1v-1h-1v-1h1v-1h1zM1143 371h1v1h1v1h1v1h-1v1h-1v1h-1v-1h-1v-1h-1v-1h1v-1h1zM1143 372h1v1h1v1h1v1h-1v1h-1v1h-1v-1h-1v-1h-1v-1h1v-1h1zM1143 373h1v1h1v1h1v1h-1v1h-1v1h-1v-1h-1v-1h-1v-1h1v-1h1zM1143 374h1v1h1v1h1v1h-1v1h-1v1h-1v-1h-1v-1h-1v-1h1v-1h1zM1143 375h1v1h1v1h1v1h-1v1h-1v1h-1v-1h-1v-1h-1v-1h1v-1h1zM1143 376h1v1h1v1h1v1h-1v1h-1v1h-1v-1h-1v-1h-1v-1h1v-1h1zM1143 377h1v1h1v1h1v1h-1v1h-1v1h-1v-1h-1v-1h-1v-1h1v-1h1zM1143 378h1v1h1v1h1v1h-1v1h-1v1h-1v-1h-1v-1h-1v-1h1v-1h1zM1143 379h1v1h1v1h1v1h-1v1h-1v1h-1v-1h-1v-1h-1v-1h1v-1h1zM1143 380h1v1h1v1h1v1h-1v1h-1v1h-1v-1h-1v-1h-1v-1h1v-1h1zM1143 381h1v1h1v1h1v1h-1v1h-1v1h-1v-1h-1v-1h-1v-1h1v-1h1zM1144 320h1v1h1v1h1v1h-1v1h-1v1h-1v-1h-1v-1h-1v-1h1v-1h1zM1144 321h1v1h1v1h1v1h-1v1h-1v1h-1v-1h-1v-1h-1v-1h1v-1h1zM1144 322h1v1h1v1h1v1h-1v1h-1v1h-1v-1h-1v-1h-1v-1h1v-1h1zM1144 324h1v1h1v1h1v1h-1v1h-1v1h-1v-1h-1v-1h-1v-1h1v-1h1zM1144 325h1v1h1v1h1v1h-1v1h-1v1h-1v-1h-1v-1h-1v-1h1v-1h1zM1144 326h1v1h1v1h1v1h-1v1h-1v1h-1v-1h-1v-1h-1v-1h1v-1h1zM1144 327h1v1h1v1h1v1h-1v1h-1v1h-1v-1h-1v-1h-1v-1h1v-1h1zM1144 328h1v1h1v1h1v1h-1v1h-1v1h-1v-1h-1v-1h-1v-1h1v-1h1zM1144 329h1v1h1v1h1v1h-1v1h-1v1h-1v-1h-1v-1h-1v-1h1v-1h1zM1144 330h1v1h1v1h1v1h-1v1h-1v1h-1v-1h-1v-1h-1v-1h1v-1h1zM1144 331h1v1h1v1h1v1h-1v1h-1v1h-1v-1h-1v-1h-1v-1h1v-1h1zM1144 332h1v1h1v1h1v1h-1v1h-1v1h-1v-1h-1v-1h-1v-1h1v-1h1zM1144 333h1v1h1v1h1v1h-1v1h-1v1h-1v-1h-1v-1h-1v-1h1v-1h1zM1144 334h1v1h1v1h1v1h-1v1h-1v1h-1v-1h-1v-1h-1v-1h1v-1h1zM1144 335h1v1h1v1h1v1h-1v1h-1v1h-1v-1h-1v-1h-1v-1h1v-1h1zM1144 336h1v1h1v1h1v1h-1v1h-1v1h-1v-1h-1v-1h-1v-1h1v-1h1zM1144 337h1v1h1v1h1v1h-1v1h-1v1h-1v-1h-1v-1h-1v-1h1v-1h1zM1144 338h1v1h1v1h1v1h-1v1h-1v1h-1v-1h-1v-1h-1v-1h1v-1h1zM1144 339h1v1h1v1h1v1h-1v1h-1v1h-1v-1h-1v-1h-1v-1h1v-1h1zM1144 340h1v1h1v1h1v1h-1v1h-1v1h-1v-1h-1v-1h-1v-1h1v-1h1zM1144 341h1v1h1v1h1v1h-1v1h-1v1h-1v-1h-1v-1h-1v-1h1v-1h1zM1144 342h1v1h1v1h1v1h-1v1h-1v1h-1v-1h-1v-1h-1v-1h1v-1h1zM1144 343h1v1h1v1h1v1h-1v1h-1v1h-1v-1h-1v-1h-1v-1h1v-1h1zM1144 344h1v1h1v1h1v1h-1v1h-1v1h-1v-1h-1v-1h-1v-1h1v-1h1zM1144 345h1v1h1v1h1v1h-1v1h-1v1h-1v-1h-1v-1h-1v-1h1v-1h1zM1144 346h1v1h1v1h1v1h-1v1h-1v1h-1v-1h-1v-1h-1v-1h1v-1h1zM1144 347h1v1h1v1h1v1h-1v1h-1v1h-1v-1h-1v-1h-1v-1h1v-1h1zM1144 348h1v1h1v1h1v1h-1v1h-1v1h-1v-1h-1v-1h-1v-1h1v-1h1zM1144 349h1v1h1v1h1v1h-1v1h-1v1h-1v-1h-1v-1h-1v-1h1v-1h1zM1144 350h1v1h1v1h1v1h-1v1h-1v1h-1v-1h-1v-1h-1v-1h1v-1h1zM1144 351h1v1h1v1h1v1h-1v1h-1v1h-1v-1h-1v-1h-1v-1h1v-1h1zM1144 352h1v1h1v1h1v1h-1v1h-1v1h-1v-1h-1v-1h-1v-1h1v-1h1zM1144 353h1v1h1v1h1v1h-1v1h-1v1h-1v-1h-1v-1h-1v-1h1v-1h1zM1144 354h1v1h1v1h1v1h-1v1h-1v1h-1v-1h-1v-1h-1v-1h1v-1h1zM1144 355h1v1h1v1h1v1h-1v1h-1v1h-1v-1h-1v-1h-1v-1h1v-1h1zM1144 356h1v1h1v1h1v1h-1v1h-1v1h-1v-1h-1v-1h-1v-1h1v-1h1zM1144 357h1v1h1v1h1v1h-1v1h-1v1h-1v-1h-1v-1h-1v-1h1v-1h1zM1144 358h1v1h1v1h1v1h-1v1h-1v1h-1v-1h-1v-1h-1v-1h1v-1h1zM1144 359h1v1h1v1h1v1h-1v1h-1v1h-1v-1h-1v-1h-1v-1h1v-1h1zM1144 360h1v1h1v1h1v1h-1v1h-1v1h-1v-1h-1v-1h-1v-1h1v-1h1zM1144 361h1v1h1v1h1v1h-1v1h-1v1h-1v-1h-1v-1h-1v-1h1v-1h1zM1144 362h1v1h1v1h1v1h-1v1h-1v1h-1v-1h-1v-1h-1v-1h1v-1h1zM1144 363h1v1h1v1h1v1h-1v1h-1v1h-1v-1h-1v-1h-1v-1h1v-1h1zM1144 364h1v1h1v1h1v1h-1v1h-1v1h-1v-1h-1v-1h-1v-1h1v-1h1zM1144 365h1v1h1v1h1v1h-1v1h-1v1h-1v-1h-1v-1h-1v-1h1v-1h1zM1144 366h1v1h1v1h1v1h-1v1h-1v1h-1v-1h-1v-1h-1v-1h1v-1h1zM1144 367h1v1h1v1h1v1h-1v1h-1v1h-1v-1h-1v-1h-1v-1h1v-1h1zM1144 368h1v1h1v1h1v1h-1v1h-1v1h-1v-1h-1v-1h-1v-1h1v-1h1zM1144 369h1v1h1v1h1v1h-1v1h-1v1h-1v-1h-1v-1h-1v-1h1v-1h1zM1144 370h1v1h1v1h1v1h-1v1h-1v1h-1v-1h-1v-1h-1v-1h1v-1h1zM1144 371h1v1h1v1h1v1h-1v1h-1v1h-1v-1h-1v-1h-1v-1h1v-1h1zM1144 372h1v1h1v1h1v1h-1v1h-1v1h-1v-1h-1v-1h-1v-1h1v-1h1zM1144 373h1v1h1v1h1v1h-1v1h-1v1h-1v-1h-1v-1h-1v-1h1v-1h1zM1144 374h1v1h1v1h1v1h-1v1h-1v1h-1v-1h-1v-1h-1v-1h1v-1h1zM1144 375h1v1h1v1h1v1h-1v1h-1v1h-1v-1h-1v-1h-1v-1h1v-1h1zM1144 376h1v1h1v1h1v1h-1v1h-1v1h-1v-1h-1v-1h-1v-1h1v-1h1zM1144 377h1v1h1v1h1v1h-1v1h-1v1h-1v-1h-1v-1h-1v-1h1v-1h1zM1144 378h1v1h1v1h1v1h-1v1h-1v1h-1v-1h-1v-1h-1v-1h1v-1h1zM1144 379h1v1h1v1h1v1h-1v1h-1v1h-1v-1h-1v-1h-1v-1h1v-1h1zM1144 380h1v1h1v1h1v1h-1v1h-1v1h-1v-1h-1v-1h-1v-1h1v-1h1zM1144 381h1v1h1v1h1v1h-1v1h-1v1h-1v-1h-1v-1h-1v-1h1v-1h1zM1144 412h1v1h1v1h1v1h-1v1h-1v1h-1v-1h-1v-1h-1v-1h1v-1h1zM1145 381h1v1h1v1h1v1h-1v1h-1v1h-1v-1h-1v-1h-1v-1h1v-1h1zM1145 396h1v1h1v1h1v1h-1v1h-1v1h-1v-1h-1v-1h-1v-1h1v-1h1zM1149 318h1v1h1v1h1v1h-1v1h-1v1h-1v-1h-1v-1h-1v-1h1v-1h1zM1149 324h1v1h1v1h1v1h-1v1h-1v1h-1v-1h-1v-1h-1v-1h1v-1h1zM1149 325h1v1h1v1h1v1h-1v1h-1v1h-1v-1h-1v-1h-1v-1h1v-1h1zM1149 326h1v1h1v1h1v1h-1v1h-1v1h-1v-1h-1v-1h-1v-1h1v-1h1zM1149 327h1v1h1v1h1v1h-1v1h-1v1h-1v-1h-1v-1h-1v-1h1v-1h1zM1149 328h1v1h1v1h1v1h-1v1h-1v1h-1v-1h-1v-1h-1v-1h1v-1h1zM1149 329h1v1h1v1h1v1h-1v1h-1v1h-1v-1h-1v-1h-1v-1h1v-1h1zM1149 330h1v1h1v1h1v1h-1v1h-1v1h-1v-1h-1v-1h-1v-1h1v-1h1zM1149 332h1v1h1v1h1v1h-1v1h-1v1h-1v-1h-1v-1h-1v-1h1v-1h1zM1149 334h1v1h1v1h1v1h-1v1h-1v1h-1v-1h-1v-1h-1v-1h1v-1h1zM1149 335h1v1h1v1h1v1h-1v1h-1v1h-1v-1h-1v-1h-1v-1h1v-1h1zM1149 337h1v1h1v1h1v1h-1v1h-1v1h-1v-1h-1v-1h-1v-1h1v-1h1zM1149 338h1v1h1v1h1v1h-1v1h-1v1h-1v-1h-1v-1h-1v-1h1v-1h1zM1149 341h1v1h1v1h1v1h-1v1h-1v1h-1v-1h-1v-1h-1v-1h1v-1h1zM1149 342h1v1h1v1h1v1h-1v1h-1v1h-1v-1h-1v-1h-1v-1h1v-1h1zM1149 344h1v1h1v1h1v1h-1v1h-1v1h-1v-1h-1v-1h-1v-1h1v-1h1zM1149 345h1v1h1v1h1v1h-1v1h-1v1h-1v-1h-1v-1h-1v-1h1v-1h1zM1149 346h1v1h1v1h1v1h-1v1h-1v1h-1v-1h-1v-1h-1v-1h1v-1h1zM1149 347h1v1h1v1h1v1h-1v1h-1v1h-1v-1h-1v-1h-1v-1h1v-1h1zM1149 348h1v1h1v1h1v1h-1v1h-1v1h-1v-1h-1v-1h-1v-1h1v-1h1zM1149 349h1v1h1v1h1v1h-1v1h-1v1h-1v-1h-1v-1h-1v-1h1v-1h1zM1149 350h1v1h1v1h1v1h-1v1h-1v1h-1v-1h-1v-1h-1v-1h1v-1h1zM1149 351h1v1h1v1h1v1h-1v1h-1v1h-1v-1h-1v-1h-1v-1h1v-1h1zM1149 352h1v1h1v1h1v1h-1v1h-1v1h-1v-1h-1v-1h-1v-1h1v-1h1zM1149 353h1v1h1v1h1v1h-1v1h-1v1h-1v-1h-1v-1h-1v-1h1v-1h1zM1149 354h1v1h1v1h1v1h-1v1h-1v1h-1v-1h-1v-1h-1v-1h1v-1h1zM1149 355h1v1h1v1h1v1h-1v1h-1v1h-1v-1h-1v-1h-1v-1h1v-1h1zM1149 356h1v1h1v1h1v1h-1v1h-1v1h-1v-1h-1v-1h-1v-1h1v-1h1zM1149 357h1v1h1v1h1v1h-1v1h-1v1h-1v-1h-1v-1h-1v-1h1v-1h1zM1149 363h1v1h1v1h1v1h-1v1h-1v1h-1v-1h-1v-1h-1v-1h1v-1h1zM1149 364h1v1h1v1h1v1h-1v1h-1v1h-1v-1h-1v-1h-1v-1h1v-1h1zM1149 365h1v1h1v1h1v1h-1v1h-1v1h-1v-1h-1v-1h-1v-1h1v-1h1zM1149 366h1v1h1v1h1v1h-1v1h-1v1h-1v-1h-1v-1h-1v-1h1v-1h1zM1149 367h1v1h1v1h1v1h-1v1h-1v1h-1v-1h-1v-1h-1v-1h1v-1h1zM1149 368h1v1h1v1h1v1h-1v1h-1v1h-1v-1h-1v-1h-1v-1h1v-1h1zM1149 369h1v1h1v1h1v1h-1v1h-1v1h-1v-1h-1v-1h-1v-1h1v-1h1zM1149 370h1v1h1v1h1v1h-1v1h-1v1h-1v-1h-1v-1h-1v-1h1v-1h1zM1149 378h1v1h1v1h1v1h-1v1h-1v1h-1v-1h-1v-1h-1v-1h1v-1h1zM1150 324h1v1h1v1h1v1h-1v1h-1v1h-1v-1h-1v-1h-1v-1h1v-1h1zM1150 325h1v1h1v1h1v1h-1v1h-1v1h-1v-1h-1v-1h-1v-1h1v-1h1zM1150 326h1v1h1v1h1v1h-1v1h-1v1h-1v-1h-1v-1h-1v-1h1v-1h1zM1150 327h1v1h1v1h1v1h-1v1h-1v1h-1v-1h-1v-1h-1v-1h1v-1h1zM1150 328h1v1h1v1h1v1h-1v1h-1v1h-1v-1h-1v-1h-1v-1h1v-1h1zM1150 329h1v1h1v1h1v1h-1v1h-1v1h-1v-1h-1v-1h-1v-1h1v-1h1zM1150 330h1v1h1v1h1v1h-1v1h-1v1h-1v-1h-1v-1h-1v-1h1v-1h1zM1150 331h1v1h1v1h1v1h-1v1h-1v1h-1v-1h-1v-1h-1v-1h1v-1h1zM1150 332h1v1h1v1h1v1h-1v1h-1v1h-1v-1h-1v-1h-1v-1h1v-1h1zM1150 333h1v1h1v1h1v1h-1v1h-1v1h-1v-1h-1v-1h-1v-1h1v-1h1zM1150 334h1v1h1v1h1v1h-1v1h-1v1h-1v-1h-1v-1h-1v-1h1v-1h1zM1150 335h1v1h1v1h1v1h-1v1h-1v1h-1v-1h-1v-1h-1v-1h1v-1h1zM1150 336h1v1h1v1h1v1h-1v1h-1v1h-1v-1h-1v-1h-1v-1h1v-1h1zM1150 337h1v1h1v1h1v1h-1v1h-1v1h-1v-1h-1v-1h-1v-1h1v-1h1zM1150 338h1v1h1v1h1v1h-1v1h-1v1h-1v-1h-1v-1h-1v-1h1v-1h1zM1150 339h1v1h1v1h1v1h-1v1h-1v1h-1v-1h-1v-1h-1v-1h1v-1h1zM1150 340h1v1h1v1h1v1h-1v1h-1v1h-1v-1h-1v-1h-1v-1h1v-1h1zM1150 341h1v1h1v1h1v1h-1v1h-1v1h-1v-1h-1v-1h-1v-1h1v-1h1zM1150 342h1v1h1v1h1v1h-1v1h-1v1h-1v-1h-1v-1h-1v-1h1v-1h1zM1150 343h1v1h1v1h1v1h-1v1h-1v1h-1v-1h-1v-1h-1v-1h1v-1h1zM1150 344h1v1h1v1h1v1h-1v1h-1v1h-1v-1h-1v-1h-1v-1h1v-1h1zM1150 423h1v1h1v1h1v1h-1v1h-1v1h-1v-1h-1v-1h-1v-1h1v-1h1zM1151 312h1v1h1v1h1v1h-1v1h-1v1h-1v-1h-1v-1h-1v-1h1v-1h1zM1156 230h1v1h1v1h1v1h-1v1h-1v1h-1v-1h-1v-1h-1v-1h1v-1h1zM1156 242h1v1h1v1h1v1h-1v1h-1v1h-1v-1h-1v-1h-1v-1h1v-1h1zM1156 249h1v1h1v1h1v1h-1v1h-1v1h-1v-1h-1v-1h-1v-1h1v-1h1zM1156 260h1v1h1v1h1v1h-1v1h-1v1h-1v-1h-1v-1h-1v-1h1v-1h1zM1156 262h1v1h1v1h1v1h-1v1h-1v1h-1v-1h-1v-1h-1v-1h1v-1h1zM1156 264h1v1h1v1h1v1h-1v1h-1v1h-1v-1h-1v-1h-1v-1h1v-1h1zM1156 266h1v1h1v1h1v1h-1v1h-1v1h-1v-1h-1v-1h-1v-1h1v-1h1zM1156 268h1v1h1v1h1v1h-1v1h-1v1h-1v-1h-1v-1h-1v-1h1v-1h1zM1156 270h1v1h1v1h1v1h-1v1h-1v1h-1v-1h-1v-1h-1v-1h1v-1h1zM1156 272h1v1h1v1h1v1h-1v1h-1v1h-1v-1h-1v-1h-1v-1h1v-1h1zM1156 275h1v1h1v1h1v1h-1v1h-1v1h-1v-1h-1v-1h-1v-1h1v-1h1zM1156 282h1v1h1v1h1v1h-1v1h-1v1h-1v-1h-1v-1h-1v-1h1v-1h1zM1156 284h1v1h1v1h1v1h-1v1h-1v1h-1v-1h-1v-1h-1v-1h1v-1h1zM1156 295h1v1h1v1h1v1h-1v1h-1v1h-1v-1h-1v-1h-1v-1h1v-1h1zM1156 297h1v1h1v1h1v1h-1v1h-1v1h-1v-1h-1v-1h-1v-1h1v-1h1zM1156 299h1v1h1v1h1v1h-1v1h-1v1h-1v-1h-1v-1h-1v-1h1v-1h1zM1156 301h1v1h1v1h1v1h-1v1h-1v1h-1v-1h-1v-1h-1v-1h1v-1h1zM1156 303h1v1h1v1h1v1h-1v1h-1v1h-1v-1h-1v-1h-1v-1h1v-1h1zM1156 308h1v1h1v1h1v1h-1v1h-1v1h-1v-1h-1v-1h-1v-1h1v-1h1zM1156 310h1v1h1v1h1v1h-1v1h-1v1h-1v-1h-1v-1h-1v-1h1v-1h1zM1156 312h1v1h1v1h1v1h-1v1h-1v1h-1v-1h-1v-1h-1v-1h1v-1h1zM1156 314h1v1h1v1h1v1h-1v1h-1v1h-1v-1h-1v-1h-1v-1h1v-1h1zM1156 316h1v1h1v1h1v1h-1v1h-1v1h-1v-1h-1v-1h-1v-1h1v-1h1zM1156 318h1v1h1v1h1v1h-1v1h-1v1h-1v-1h-1v-1h-1v-1h1v-1h1zM1156 320h1v1h1v1h1v1h-1v1h-1v1h-1v-1h-1v-1h-1v-1h1v-1h1zM1156 323h1v1h1v1h1v1h-1v1h-1v1h-1v-1h-1v-1h-1v-1h1v-1h1zM1156 330h1v1h1v1h1v1h-1v1h-1v1h-1v-1h-1v-1h-1v-1h1v-1h1zM1156 343h1v1h1v1h1v1h-1v1h-1v1h-1v-1h-1v-1h-1v-1h1v-1h1zM1156 396h1v1h1v1h1v1h-1v1h-1v1h-1v-1h-1v-1h-1v-1h1v-1h1zM1191 355h1v1h1v1h1v1h-1v1h-1v1h-1v-1h-1v-1h-1v-1h1v-1h1zM1191 362h1v1h1v1h1v1h-1v1h-1v1h-1v-1h-1v-1h-1v-1h1v-1h1zM1191 367h1v1h1v1h1v1h-1v1h-1v1h-1v-1h-1v-1h-1v-1h1v-1h1zM1191 369h1v1h1v1h1v1h-1v1h-1v1h-1v-1h-1v-1h-1v-1h1v-1h1zM1191 371h1v1h1v1h1v1h-1v1h-1v1h-1v-1h-1v-1h-1v-1h1v-1h1zM1191 373h1v1h1v1h1v1h-1v1h-1v1h-1v-1h-1v-1h-1v-1h1v-1h1zM1191 375h1v1h1v1h1v1h-1v1h-1v1h-1v-1h-1v-1h-1v-1h1v-1h1zM1191 377h1v1h1v1h1v1h-1v1h-1v1h-1v-1h-1v-1h-1v-1h1v-1h1zM1191 379h1v1h1v1h1v1h-1v1h-1v1h-1v-1h-1v-1h-1v-1h1v-1h1zM1191 381h1v1h1v1h1v1h-1v1h-1v1h-1v-1h-1v-1h-1v-1h1v-1h1zM1191 383h1v1h1v1h1v1h-1v1h-1v1h-1v-1h-1v-1h-1v-1h1v-1h1zM1191 385h1v1h1v1h1v1h-1v1h-1v1h-1v-1h-1v-1h-1v-1h1v-1h1zM1191 508h1v1h1v1h1v1h-1v1h-1v1h-1v-1h-1v-1h-1v-1h1v-1h1z"/>
<path fill="#0000ff" d="M815 789h1v1h-1zM815 792h1v1h-1zM815 793h1v1h-1zM815 794h1v1h-1zM815 797h1v1h-1zM815 798h1v1h-1zM815 801h1v1h-1zM815 802h1v1h-1zM815 804h1v1h-1zM815 805h1v1h-1zM815 812h1v1h-1zM815 815h1v1h-1zM815 818h1v1h-1zM815 821h1v1h-1z"/>
<path fill="#ff0000" d="M821 743h1v1h1v1h1v1h-1v1h-1v1h-1v-1h-1v-1h-1v-1h1v-1h1zM945 652h1v1h1v1h1v1h-1v1h-1v1h-1v-1h-1v-1h-1v-1h1v-1h1zM1135 475h1v1h1v1h1v1h-1v1h-1v1h-1v-1h-1v-1h-1v-1h1v-1h1zM1162 475h1v1h1v1h1v1h-1v1h-1v1h-1v-1h-1v-1h-1v-1h1v-1h1z"/>
<path fill="#ff0000" d="M965 611h27v1h-27zM978 598h1v27h-1z"/>
<path fill="#fff" d="M1140 333h1v1h-1zM1140 338h1v1h-1zM1141 332h1v1h-1zM1147 333h1v1h-1zM1147 335h1v1h-1zM1147 338h1v1h-1zM1147 341h1v1h-1zM1147 342h1v1h-1zM1147 345h1v1h-1zM1148 328h1v1h-1zM1148 329h1v1h-1zM1146 324h1v1h-1zM1146 325h1v1h-1zM1147 352h1v1h-1zM1147 354h1v1h-1zM1147 357h1v1h-1zM1146 357h1v1h-1zM1148 357h1v1h-1z"/>
</g>
<path fill="#000" shape-rendering="crispEdges" d="M1330 100v1h1v-1zM1329 101v1h1v-1zM1328 102v2h1v-2zM1327 104v1h1v-1zM1326 105v1h1v-1zM1325 106v2h1v-2zM1324 108v1h1v-1zM1323 109v1h1v-1zM1322 110v2h1v-2zM1321 112v1h1v-1zM1320 113v1h1v-1zM1319 114v2h1v-2zM1318 116v1h1v-1zM1317 117v2h1v-2zM1316 119v1h1v-1zM1315 120v1h1v-1zM1314 121v2h1v-2zM1313 123v1h1v-1zM1312 124v1h1v-1zM1311 125v2h1v-2zM1310 127v1h1v-1zM1309 128v1h1v-1zM1308 129v2h1v-2zM1307 131v1h1v-1zM1306 132v1h1v-1zM1305 133v2h1v-2zM1304 135v1h1v-1zM1303 136v1h1v-1zM1302 137v2h1v-2zM1301 139v1h1v-1zM1300 140v2h1v-2zM1299 142v1h1v-1zM1298 143v1h1v-1zM1297 144v2h1v-2zM1296 146v1h1v-1zM1295 147v1h1v-1zM1294 148v2h1v-2zM1293 150v1h1v-1zM1292 151v1h1v-1zM1291 152v2h1v-2zM1290 154v1h1v-1zM1289 155v1h1v-1zM1288 156v2h1v-2zM1287 158v1h1v-1zM1286 159v2h1v-2zM1285 161v1h1v-1zM1284 162v1h1v-1zM1283 163v2h1v-2zM1282 165v1h1v-1zM1281 166v1h1v-1zM1280 167v2h1v-2zM1279 169v1h1v-1zM1278 170v1h1v-1zM1277 171v2h1v-2zM1276 173v1h1v-1zM1275 174v1h1v-1zM1274 175v2h1v-2zM1273 177v1h1v-1zM1272 178v1h1v-1zM1271 179v2h1v-2zM1270 181v1h1v-1zM1269 182v2h1v-2zM1268 184v1h1v-1zM1267 185v1h1v-1zM1266 186v2h1v-2zM1265 188v1h1v-1zM1264 189v1h1v-1zM1263 190v2h1v-2zM1262 192v1h1v-1zM1261 193v1h1v-1zM1260 194v2h1v-2zM1259 196v1h1v-1zM1258 197v1h1v-1zM1257 198v2h1v-2zM1256 200v1h1v-1zM1255 201v2h1v-2zM1254 203v1h1v-1zM1253 204v1h1v-1zM1252 205v2h1v-2zM1251 207v1h1v-1zM1250 208v1h1v-1zM1249 209v2h1v-2zM1248 211v1h1v-1zM1247 212v1h1v-1zM1246 213v2h1v-2zM1245 215v1h1v-1zM1244 216v1h1v-1zM1243 217v2h1v-2zM1242 219v1h1v-1zM1241 220v1h1v-1zM1240 221v2h1v-2zM1239 223v1h1v-1zM1238 224v2h1v-2zM1237 226v1h1v-1zM1236 227v1h1v-1zM1235 228v2h1v-2zM1234 230v1h1v-1zM1233 231v1h1v-1zM1232 232v2h1v-2zM1231 234v1h1v-1zM1230 235v1h1v-1zM1229 236v2h1v-2zM1228 238v1h1v-1zM1227 239v1h1v-1zM1226 240v2h1v-2zM1225 242v1h1v-1zM1224 243v2h1v-2zM1223 245v1h1v-1zM1222 246v1h1v-1zM1221 247v2h1v-2zM1220 249v1h1v-1zM1219 250v1h1v-1zM1218 251v2h1v-2zM1217 253v1h1v-1zM1216 254v1h1v-1zM1215 255v2h1v-2zM1214 257v1h1v-1zM1213 258v1h1v-1zM1212 259v2h1v-2zM1211 261v1h1v-1zM1210 262v2h1v-2zM1209 264v1h1v-1zM1208 265v1h1v-1zM1207 266v2h1v-2zM1206 268v1h1v-1zM1205 269v1h1v-1zM1204 270v2h1v-2zM1203 272v1h1v-1zM1202 273v1h1v-1zM1201 274v2h1v-2zM1200 276v1h1v-1zM1199 277v1h1v-1zM1198 278v2h1v-2zM1197 280v1h1v-1zM1196 281v1h1v-1zM1195 282v2h1v-2zM1194 284v1h1v-1zM1193 285v2h1v-2zM1192 287v1h1v-1zM1191 288v1h1v-1zM1190 289v2h1v-2zM1189 291v1h1v-1zM1188 292v1h1v-1zM1187 293v2h1v-2zM1186 295v1h1v-1zM1185 296v1h1v-1zM1184 297v2h1v-2zM1183 299v1h1v-1zM1182 300v1h1v-1zM1181 301v2h1v-2zM1180 303v1h1v-1zM1179 304v2h1v-2zM1178 306v1h1v-1zM1177 307v1h1v-1zM1176 308v2h1v-2zM1175 310v1h1v-1zM1174 311v1h1v-1zM1173 312v2h1v-2zM1172 314v1h1v-1zM1171 315v1h1v-1zM1170 316v2h1v-2zM1169 318v1h1v-1zM1168 319v1h1v-1zM1167 320v2h1v-2zM1166 322v1h1v-1zM1165 323v1h1v-1zM1164 324v2h1v-2zM1163 326v1h1v-1zM1162 327v2h1v-2zM1161 329v1h1v-1zM1160 330v1h1v-1zM1159 331v2h1v-2zM1158 333v1h1v-1zM1157 334v1h1v-1zM1156 335v2h1v-2zM1155 337v1h1v-1zM1154 338v1h1v-1zM1153 339v2h1v-2zM1152 341v1h1v-1zM1151 342v1h1v-1zM1150 343v2h1v-2zM1149 345v1h1v-1zM1148 346v2h1v-2zM1147 348v1h1v-1zM1146 349v1h1v-1zM1145 350v2h1v-2zM1144 352v1h1v-1zM1143 353v1h1v-1zM1142 354v2h1v-2zM1141 356v1h1v-1zM1140 357v1h1v-1zM1139 358v2h1v-2zM1138 360v1h1v-1zM1137 361v1h1v-1zM1136 362v2h1v-2zM1135 364v1h1v-1zM1134 365v1h1v-1zM1133 366v2h1v-2zM1132 368v1h1v-1zM1131 369v2h1v-2zM1130 371v1h1v-1zM1129 372v1h1v-1zM1128 373v2h1v-2zM1127 375v1h1v-1zM1126 376v1h1v-1zM1125 377v2h1v-2zM1124 379v1h1v-1zM1123 380v1h1v-1zM1122 381v2h1v-2zM1121 383v1h1v-1zM1120 384v1h1v-1zM1119 385v2h1v-2zM1118 387v1h1v-1zM1117 388v2h1v-2zM1116 390v1h1v-1zM1115 391v1h1v-1zM1114 392v2h1v-2zM1113 394v1h1v-1zM1112 395v1h1v-1zM1111 396v2h1v-2zM1110 398v1h1v-1zM1109 399v1h1v-1zM1108 400v2h1v-2zM1107 402v1h1v-1zM1106 403v1h1v-1zM1105 404v2h1v-2zM1104 406v1h1v-1zM1103 407v1h1v-1zM1102 408v2h1v-2zM1101 410v1h1v-1zM1100 411v2h1v-2zM1099 413v1h1v-1zM1098 414v1h1v-1zM1097 415v2h1v-2zM1096 417v1h1v-1zM1095 418v1h1v-1zM1094 419v2h1v-2zM1093 421v1h1v-1zM1092 422v1h1v-1zM1091 423v2h1v-2zM1090 425v1h1v-1zM1089 426v1h1v-1zM1088 427v2h1v-2zM1087 429v1h1v-1zM1086 430v2h1v-2zM1085 432v1h1v-1zM1084 433v1h1v-1zM1083 434v2h1v-2zM1082 436v1h1v-1zM1081 437v1h1v-1zM1080 438v2h1v-2zM1079 440v1h1v-1zM1078 441v1h1v-1zM1077 442v2h1v-2zM1076 444v1h1v-1zM1075 445v1h1v-1zM1074 446v2h1v-2zM1073 448v1h1v-1zM1072 449v1h1v-1zM1071 450v2h1v-2zM1070 452v1h1v-1zM1069 453v2h1v-2zM1068 455v1h1v-1zM1067 456v1h1v-1zM1066 457v2h1v-2zM1065 459v1h1v-1zM1064 460v1h1v-1zM1063 461v2h1v-2zM1062 463v1h1v-1zM1061 464v1h1v-1zM1060 465v2h1v-2zM1059 467v1h1v-1zM1058 468v1h1v-1zM1057 469v2h1v-2zM1056 471v1h1v-1zM1055 472v2h1v-2zM1054 474v1h1v-1zM1053 475v1h1v-1zM1052 476v2h1v-2zM1051 478v1h1v-1zM1050 479v1h1v-1zM1049 480v2h1v-2zM1048 482v1h1v-1zM1047 483v1h1v-1zM1046 484v2h1v-2zM1045 486v1h1v-1zM1044 487v1h1v-1zM1043 488v2h1v-2zM1042 490v1h1v-1zM1041 491v1h1v-1zM1040 492v2h1v-2zM1039 494v1h1v-1zM1038 495v2h1v-2zM1037 497v1h1v-1zM1036 498v1h1v-1zM1035 499v2h1v-2zM1034 501v1h1v-1zM1033 502v1h1v-1zM1032 503v2h1v-2zM1031 505v1h1v-1zM1030 506v1h1v-1zM1029 507v2h1v-2zM1028 509v1h1v-1zM1027 510v1h1v-1zM1026 511v2h1v-2zM1025 513v1h1v-1zM1024 514v2h1v-2zM1023 516v1h1v-1zM1022 517v1h1v-1zM1021 518v2h1v-2zM1020 520v1h1v-1zM1019 521v1h1v-1zM1018 522v2h1v-2zM1017 524v1h1v-1zM1016 525v1h1v-1zM1015 526v2h1v-2zM1014 528v1h1v-1zM1013 529v1h1v-1zM1012 530v2h1v-2zM1011 532v1h1v-1zM1010 533v1h1v-1zM1009 534v2h1v-2zM1008 536v1h1v-1zM1007 537v2h1v-2zM1006 539v1h1v-1zM1005 540v1h1v-1zM1004 541v2h1v-2zM1003 543v1h1v-1zM1002 544v1h1v-1zM1001 545v2h1v-2zM1000 547v1h1v-1zM999 548v1h1v-1zM998 549v2h1v-2zM997 551v1h1v-1zM996 552v1h1v-1zM995 553v2h1v-2zM994 555v1h1v-1zM993 556v2h1v-2zM992 558v1h1v-1zM991 559v1h1v-1zM990 560v2h1v-2zM989 562v1h1v-1zM988 563v1h1v-1zM987 564v2h1v-2zM986 566v1h1v-1zM985 567v1h1v-1zM984 568v2h1v-2zM983 570v1h1v-1zM982 571v1h1v-1zM981 572v2h1v-2zM980 574v1h1v-1zM979 575v1h1v-1zM978 576v2h1v-2zM977 578v1h1v-1zM976 579v2h1v-2zM975 581v1h1v-1zM974 582v1h1v-1zM973 583v2h1v-2zM972 585v1h1v-1zM971 586v1h1v-1zM970 587v2h1v-2zM969 589v1h1v-1zM968 590v1h1v-1zM967 591v2h1v-2zM966 593v1h1v-1zM965 594v1h1v-1zM964 595v2h1v-2zM963 597v1h1v-1zM962 598v2h1v-2zM961 600v1h1v-1zM960 601v1h1v-1zM959 602v2h1v-2zM958 604v1h1v-1zM957 605v1h1v-1zM956 606v2h1v-2zM955 608v1h1v-1zM954 609v1h1v-1zM953 610v2h1v-2zM952 612v1h1v-1zM951 613v1h1v-1zM950 614v2h1v-2zM949 616v1h1v-1zM948 617v2h1v-2zM947 619v1h1v-1zM946 620v1h1v-1zM945 621v2h1v-2zM944 623v1h1v-1zM943 624v1h1v-1zM942 625v2h1v-2zM941 627v1h1v-1zM940 628v1h1v-1zM939 629v2h1v-2zM938 631v1h1v-1zM937 632v1h1v-1zM936 633v2h1v-2zM935 635v1h1v-1zM934 636v1h1v-1zM933 637v2h1v-2zM932 639v1h1v-1zM931 640v2h1v-2zM930 642v1h1v-1zM929 643v1h1v-1zM928 644v2h1v-2zM927 646v1h1v-1zM926 647v1h1v-1zM925 648v2h1v-2zM924 650v1h1v-1zM923 651v1h1v-1zM922 652v2h1v-2zM921 654v1h1v-1zM920 655v1h1v-1zM919 656v2h1v-2zM918 658v1h1v-1zM917 659v2h1v-2zM916 661v1h1v-1zM915 662v1h1v-1zM914 663v2h1v-2zM913 665v1h1v-1zM912 666v1h1v-1zM911 667v2h1v-2zM910 669v1h1v-1zM909 670v1h1v-1zM908 671v2h1v-2zM907 673v1h1v-1zM906 674v1h1v-1zM905 675v2h1v-2zM904 677v1h1v-1zM903 678v1h1v-1zM902 679v2h1v-2zM901 681v1h1v-1zM900 682v2h1v-2zM899 684v1h1v-1zM898 685v1h1v-1zM897 686v2h1v-2zM896 688v1h1v-1zM895 689v1h1v-1zM894 690v2h1v-2zM893 692v1h1v-1zM892 693v1h1v-1zM891 694v2h1v-2zM890 696v1h1v-1zM889 697v1h1v-1zM888 698v2h1v-2zM887 700v1h1v-1zM886 701v2h1v-2zM885 703v1h1v-1zM884 704v1h1v-1zM883 705v2h1v-2zM882 707v1h1v-1zM881 708v1h1v-1zM880 709v2h1v-2zM879 711v1h1v-1zM878 712v1h1v-1zM877 713v2h1v-2zM876 715v1h1v-1zM875 716v1h1v-1zM874 717v2h1v-2zM873 719v1h1v-1zM872 720v1h1v-1zM871 721v2h1v-2zM870 723v1h1v-1zM869 724v2h1v-2zM868 726v1h1v-1zM867 727v1h1v-1zM866 728v2h1v-2zM865 730v1h1v-1zM864 731v1h1v-1zM863 732v2h1v-2zM862 734v1h1v-1zM861 735v1h1v-1zM860 736v2h1v-2zM859 738v1h1v-1zM858 739v1h1v-1zM857 740v2h1v-2zM856 742v1h1v-1zM855 743v2h1v-2zM854 745v1h1v-1zM853 746v1h1v-1zM852 747v2h1v-2zM851 749v1h1v-1zM850 750v1h1v-1zM849 751v2h1v-2zM848 753v1h1v-1zM847 754v1h1v-1zM846 755v2h1v-2zM845 757v1h1v-1zM844 758v1h1v-1zM843 759v2h1v-2zM842 761v1h1v-1zM841 762v1h1v-1zM840 763v2h1v-2zM839 765v1h1v-1zM838 766v2h1v-2zM837 768v1h1v-1zM836 769v1h1v-1zM835 770v2h1v-2zM834 772v1h1v-1zM833 773v1h1v-1zM832 774v2h1v-2zM831 776v1h1v-1zM830 777v1h1v-1zM829 778v2h1v-2zM828 780v1h1v-1zM827 781v1h1v-1zM826 782v2h1v-2zM825 784v1h1v-1zM824 785v2h1v-2zM823 787v1h1v-1zM822 788v1h1v-1zM821 789v2h1v-2zM820 791v1h1v-1zM819 792v1h1v-1zM818 793v2h1v-2zM817 795v1h1v-1zM816 796v1h1v-1zM815 797v2h1v-2zM814 799v1h1v-1zM813 800v1h1v-1zM812 801v2h1v-2zM811 803v1h1v-1zM810 804v1h1v-1zM809 805v2h1v-2zM808 807v1h1v-1zM807 808v2h1v-2zM806 810v1h1v-1zM805 811v1h1v-1zM804 812v2h1v-2zM803 814v1h1v-1zM802 815v1h1v-1zM801 816v2h1v-2zM800 818v1h1v-1zM799 819v1h1v-1zM798 820v2h1v-2zM797 822v1h1v-1zM796 823v1h1v-1zM795 824v2h1v-2zM794 826v1h1v-1zM793 827v2h1v-2zM792 829v1h1v-1zM791 830v1h1v-1zM790 831v2h1v-2zM789 833v1h1v-1zM788 834v1h1v-1zM787 835v2h1v-2zM786 837v1h1v-1zM785 838v1h1v-1zM784 839v2h1v-2zM783 841v1h1v-1zM782 842v1h1v-1zM781 843v2h1v-2zM780 845v1h1v-1zM779 846v1h1v-1zM778 847v2h1v-2zM777 849v1h1v-1zM776 850v2h1v-2zM775 852v1h1v-1zM774 853v1h1v-1zM773 854v2h1v-2zM772 856v1h1v-1zM771 857v1h1v-1zM770 858v2h1v-2zM769 860v1h1v-1zM768 861v1h1v-1zM767 862v2h1v-2zM766 864v1h1v-1zM765 865v1h1v-1zM764 866v2h1v-2zM763 868v1h1v-1zM762 869v2h1v-2zM761 871v1h1v-1zM760 872v1h1v-1zM759 873v2h1v-2zM758 875v1h1v-1zM757 876v1h1v-1zM756 877v2h1v-2zM755 879v1h1v-1zM754 880v1h1v-1zM753 881v2h1v-2zM752 883v1h1v-1zM751 884v1h1v-1zM750 885v2h1v-2zM749 887v1h1v-1zM748 888v1h1v-1zM747 889v2h1v-2zM746 891v1h1v-1zM745 892v2h1v-2zM744 894v1h1v-1zM743 895v1h1v-1zM742 896v2h1v-2zM741 898v1h1v-1zM740 899v1h1v-1zM739 900v2h1v-2zM738 902v1h1v-1zM737 903v1h1v-1zM736 904v2h1v-2zM735 906v1h1v-1zM734 907v1h1v-1zM733 908v2h1v-2zM732 910v1h1v-1zM731 911v2h1v-2zM730 913v1h1v-1zM729 914v1h1v-1zM728 915v2h1v-2zM727 917v1h1v-1zM726 918v1h1v-1zM725 919v2h1v-2zM724 921v1h1v-1zM723 922v1h1v-1zM722 923v2h1v-2zM721 925v1h1v-1zM720 926v1h1v-1zM719 927v2h1v-2zM718 929v1h1v-1zM717 930v2h1v-2zM716 932v1h1v-1zM715 933v1h1v-1zM714 934v2h1v-2zM713 936v1h1v-1zM712 937v1h1v-1zM711 938v2h1v-2zM710 940v1h1v-1zM709 941v1h1v-1zM708 942v2h1v-2zM707 944v1h1v-1zM706 945v1h1v-1zM705 946v2h1v-2zM704 948v1h1v-1zM703 949v1h1v-1zM702 950v2h1v-2zM701 952v1h1v-1zM700 953v2h1v-2zM699 955v1h1v-1zM698 956v1h1v-1zM697 957v2h1v-2zM696 959v1h1v-1zM695 960v1h1v-1zM694 961v2h1v-2zM693 963v1h1v-1zM692 964v1h1v-1zM691 965v2h1v-2zM690 967v1h1v-1zM689 968v1h1v-1zM688 969v2h1v-2zM687 971v1h1v-1zM686 972v2h1v-2zM685 974v1h1v-1zM684 975v1h1v-1zM683 976v2h1v-2zM682 978v1h1v-1zM681 979v1h1v-1zM680 980v2h1v-2zM679 982v1h1v-1zM678 983v1h1v-1zM677 984v2h1v-2zM676 986v1h1v-1zM675 987v1h1v-1zM674 988v2h1v-2zM673 990v1h1v-1zM672 991v1h1v-1zM671 992v2h1v-2zM670 994v1h1v-1zM669 995v2h1v-2zM668 997v1h1v-1zM667 998v1h1v-1zM666 999v2h1v-2zM665 1001v1h1v-1zM664 1002v1h1v-1zM663 1003v2h1v-2zM662 1005v1h1v-1zM661 1006v1h1v-1zM660 1007v2h1v-2zM659 1009v1h1v-1zM658 1010v1h1v-1zM657 1011v2h1v-2zM656 1013v1h1v-1zM655 1014v2h1v-2zM654 1016v1h1v-1zM653 1017v1h1v-1zM652 1018v2h1v-2zM651 1020v1h1v-1zM650 1021v1h1v-1zM649 1022v2h1v-2zM648 1024v1h1v-1zM647 1025v1h1v-1zM646 1026v2h1v-2zM645 1028v1h1v-1zM644 1029v1h1v-1zM643 1030v2h1v-2zM642 1032v1h1v-1zM641 1033v1h1v-1zM640 1034v2h1v-2zM639 1036v1h1v-1zM638 1037v2h1v-2zM637 1039v1h1v-1zM636 1040v1h1v-1zM635 1041v2h1v-2zM634 1043v1h1v-1zM633 1044v1h1v-1zM632 1045v2h1v-2zM631 1047v1h1v-1zM630 1048v1h1v-1zM629 1049v2h1v-2zM628 1051v1h1v-1zM627 1052v1h1v-1zM626 1053v2h1v-2zM625 1055v1h1v-1zM624 1056v2h1v-2zM623 1058v1h1v-1zM622 1059v1h1v-1zM621 1060v2h1v-2zM620 1062v1h1v-1zM619 1063v1h1v-1zM618 1064v2h1v-2zM617 1066v1h1v-1zM616 1067v1h1v-1zM615 1068v2h1v-2zM614 1070v1h1v-1zM613 1071v1h1v-1zM612 1072v2h1v-2zM611 1074v1h1v-1zM610 1075v1h1v-1zM609 1076v2h1v-2zM608 1078v1h1v-1zM607 1079v2h1v-2zM606 1081v1h1v-1zM605 1082v1h1v-1zM604 1083v2h1v-2zM603 1085v1h1v-1zM602 1086v1h1v-1zM601 1087v2h1v-2zM600 1089v1h1v-1zM599 1090v1h1v-1zM598 1091v2h1v-2zM597 1093v1h1v-1zM596 1094v1h1v-1zM595 1095v2h1v-2zM594 1097v1h1v-1zM593 1098v2h1v-2zM592 1100v1h1v-1zM591 1101v1h1v-1zM590 1102v2h1v-2zM589 1104v1h1v-1zM588 1105v1h1v-1zM587 1106v2h1v-2zM586 1108v1h1v-1zM585 1109v1h1v-1zM584 1110v2h1v-2zM583 1112v1h1v-1zM582 1113v1h1v-1zM581 1114v2h1v-2zM580 1116v1h1v-1zM579 1117v1h1v-1zM578 1118v2h1v-2zM577 1120v1h1v-1zM576 1121v2h1v-2zM575 1123v1h1v-1z"/>
<g fill="#000" filter="url(#th)">
<text transform="translate(275.0 69) scale(1 1.06)" font-size="61.3" stroke="#000" stroke-width="0.9">SG502 <tspan dx="-1.1">OMAN, </tspan><tspan dx="-1.3">dive </tspan><tspan dx="-1.7">6 </tspan><tspan dx="3">started </tspan><tspan dx="-2.6">03-Jun-2015 </tspan><tspan dx="1.7">11:20:35</tspan></text>
<text transform="translate(781 1221) scale(1 1.09)" font-size="50.45">Pitch Control [cm]</text>
<text transform="translate(176 702.5) rotate(-90) scale(1 1.10)" font-size="50.2">Pitch [<tspan x="162">]</tspan></text>
<text transform="translate(241.5 1164) scale(1 1.1)" font-size="26" text-anchor="middle">-3.5</text>
<text transform="translate(345.5 1164) scale(1 1.1)" font-size="26" text-anchor="middle">-3</text>
<text transform="translate(450.5 1164) scale(1 1.1)" font-size="26" text-anchor="middle">-2.5</text>
<text transform="translate(554.5 1164) scale(1 1.1)" font-size="26" text-anchor="middle">-2</text>
<text transform="translate(659.5 1164) scale(1 1.1)" font-size="26" text-anchor="middle">-1.5</text>
<text transform="translate(764.5 1164) scale(1 1.1)" font-size="26" text-anchor="middle">-1</text>
<text transform="translate(868.5 1164) scale(1 1.1)" font-size="26" text-anchor="middle">-0.5</text>
<text transform="translate(978.5 1164) scale(1 1.1)" font-size="26" text-anchor="middle">0</text>
<text transform="translate(1083.5 1164) scale(1 1.1)" font-size="26" text-anchor="middle">0.5</text>
<text transform="translate(1187.5 1164) scale(1 1.1)" font-size="26" text-anchor="middle">1</text>
<text transform="translate(1292.5 1164) scale(1 1.1)" font-size="26" text-anchor="middle">1.5</text>
<text transform="translate(1397.5 1164) scale(1 1.1)" font-size="26" text-anchor="middle">2</text>
<text transform="translate(1501.5 1164) scale(1 1.1)" font-size="26" text-anchor="middle">2.5</text>
<text transform="translate(1606.5 1164) scale(1 1.1)" font-size="26" text-anchor="middle">3</text>
<text transform="translate(1711.5 1164) scale(1 1.1)" font-size="26" text-anchor="middle">3.5</text>
<text transform="translate(237 113) scale(1 1.1)" font-size="26" text-anchor="end">60</text>
<text transform="translate(237 198) scale(1 1.1)" font-size="26" text-anchor="end">50</text>
<text transform="translate(237 283) scale(1 1.1)" font-size="26" text-anchor="end">40</text>
<text transform="translate(237 368) scale(1 1.1)" font-size="26" text-anchor="end">30</text>
<text transform="translate(237 454) scale(1 1.1)" font-size="26" text-anchor="end">20</text>
<text transform="translate(237 539) scale(1 1.1)" font-size="26" text-anchor="end">10</text>
<text transform="translate(237 624) scale(1 1.1)" font-size="26" text-anchor="end">0</text>
<text transform="translate(237 709) scale(1 1.1)" font-size="26" text-anchor="end">-10</text>
<text transform="translate(237 795) scale(1 1.1)" font-size="26" text-anchor="end">-20</text>
<text transform="translate(237 880) scale(1 1.1)" font-size="26" text-anchor="end">-30</text>
<text transform="translate(237 965) scale(1 1.1)" font-size="26" text-anchor="end">-40</text>
<text transform="translate(237 1050) scale(1 1.1)" font-size="26" text-anchor="end">-50</text>
<text transform="translate(237 1136) scale(1 1.1)" font-size="26" text-anchor="end">-60</text>
<text transform="translate(392.6 116) scale(1 1.09)" font-size="40.8">C<tspan font-size="32.3" dy="18.4">pitch</tspan><tspan dy="-18.4" dx="-1"> = 3070</tspan></text>
<text transform="translate(393.32 191) scale(1 1.09)" font-size="41">Pitch</text>
<text transform="translate(494.16 191) scale(1 1.09)" font-size="41">gain</text>
<text transform="translate(584.15 191) scale(1 1.09)" font-size="41">=</text>
<text transform="translate(618.66 191) scale(1 1.09)" font-size="41">31</text>
<text transform="translate(691.0 191) scale(1 1.09)" font-size="41">/cm</text>
<text transform="translate(393.32 246) scale(1 1.09)" font-size="41">Pitch</text>
<text transform="translate(493.95 246) scale(1 1.09)" font-size="41">control</text>
<text transform="translate(628.63 246) scale(1 1.09)" font-size="41">range</text>
<text transform="translate(746.45 246) scale(1 1.09)" font-size="41">=</text>
<text transform="translate(779.86 246) scale(1 1.09)" font-size="41">-9.12723</text>
<text transform="translate(956.09 246) scale(1 1.09)" font-size="41">to</text>
<text transform="translate(999.05 246) scale(1 1.09)" font-size="41">2.73192</text>
<text transform="translate(1159.45 246) scale(1 1.09)" font-size="41">cm</text>
<text transform="translate(392.71 301) scale(1 1.09)" font-size="41">Implied</text>
<text transform="translate(535.94 301) scale(1 1.09)" font-size="41">pitch</text>
<text transform="translate(631.95 301) scale(1 1.09)" font-size="41">center</text>
<text transform="translate(758.65 301) scale(1 1.09)" font-size="41">=</text>
<text transform="translate(791.96 301) scale(1 1.09)" font-size="41">3031.09</text>
<text transform="translate(392.71 356) scale(1 1.09)" font-size="41">Implied</text>
<text transform="translate(535.24 356) scale(1 1.09)" font-size="41">pitch</text>
<text transform="translate(631.05 356) scale(1 1.09)" font-size="41">control</text>
<text transform="translate(765.63 356) scale(1 1.09)" font-size="41">range</text>
<text transform="translate(882.85 356) scale(1 1.09)" font-size="41">=</text>
<text transform="translate(916.86 356) scale(1 1.09)" font-size="41">-9.0056</text>
<text transform="translate(1071.88 356) scale(1 1.09)" font-size="41">to</text>
<text transform="translate(1112.65 356) scale(1 1.09)" font-size="41">2.85355</text>
<text transform="translate(1273.65 356) scale(1 1.09)" font-size="41">cm</text>
<text transform="translate(393.1 411) scale(1 1.09)" font-size="40.8">Assumed</text>
<text transform="translate(574.05 411) scale(1 1.09)" font-size="40.8">pitch</text>
<text transform="translate(670.06 411) scale(1 1.09)" font-size="40.8">conversion</text>
<text transform="translate(880.46 411) scale(1 1.09)" font-size="40.8">=</text>
<text transform="translate(914.27 411) scale(1 1.09)" font-size="40.8">319.922</text>
<text transform="translate(1074.46 411) scale(1 1.09)" font-size="40.8">counts/cm</text>
<text transform="translate(1269.56 411) scale(1 1.09)" font-size="40.8">aft</text>
<text transform="translate(686.7 1000) scale(1 1.09)" font-size="40.8">Pitch [</text>
<text transform="translate(814.2 1000) scale(1 1.09)" font-size="40.8">] =4.0428</text>
<text transform="translate(1013 1000) scale(1 1.09)" font-size="40.8">+</text>
<text transform="translate(1037.5 1000) scale(1 1.09)" font-size="40.8">Pitch</text>
<text transform="translate(1139.9 1000) scale(1 1.09)" font-size="40.8">Control</text>
<text transform="translate(1283.4 1000) scale(1 1.09)" font-size="40.8">[cm]</text>
<text transform="translate(1370.0 1000) scale(1 1.09)" font-size="40.8">*33.238</text>
<text transform="translate(1527.8 1000) scale(1 1.09)" font-size="40.8">/cm</text>
</g>
<g fill="none" stroke="#000" stroke-width="1.25" filter="url(#th)">
<circle cx="683.6" cy="166.4" r="5.3"/>
<circle cx="806.5" cy="975.4" r="5.3"/>
<circle cx="994.5" cy="975.4" r="5.3"/>
<circle cx="1520.5" cy="975.4" r="5.3"/>
<circle cx="147.3" cy="549.5" r="6.8"/>
</g>
</svg></body></html>
